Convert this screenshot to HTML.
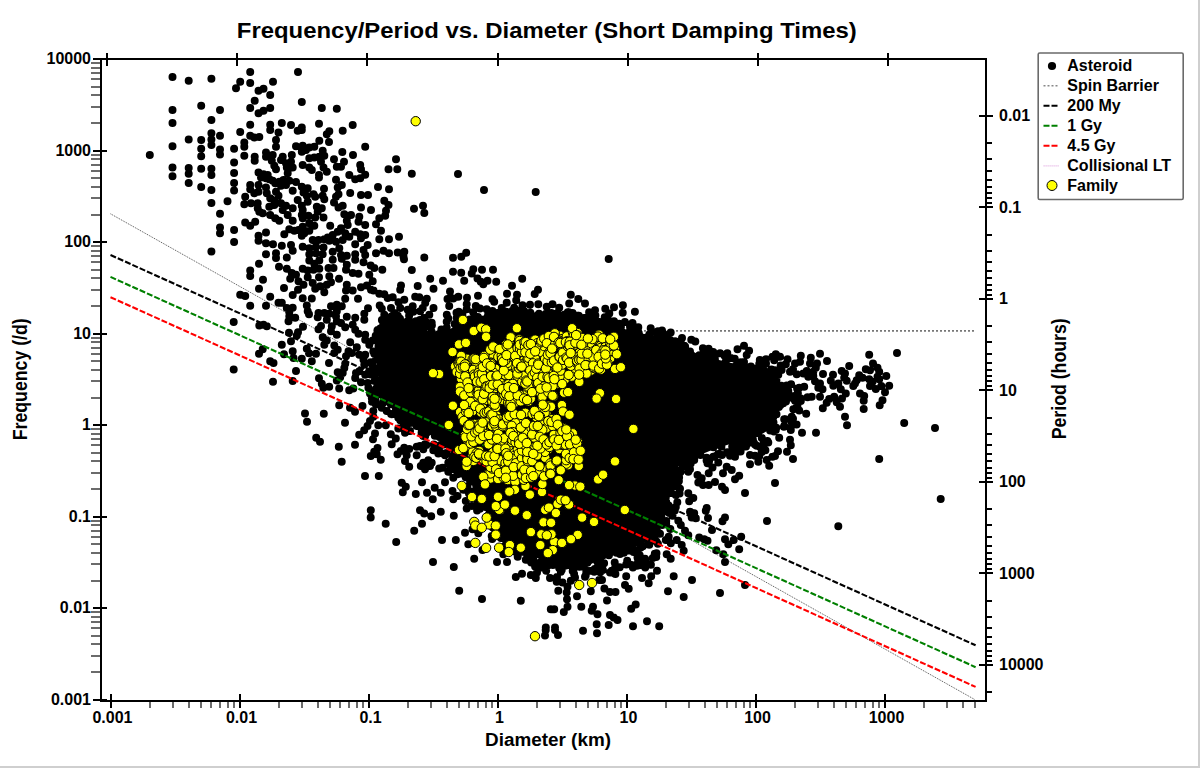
<!DOCTYPE html>
<html><head><meta charset="utf-8"><title>Frequency/Period vs. Diameter</title>
<style>html,body{margin:0;padding:0;background:#fff;overflow:hidden}svg{display:block}</style></head>
<body>
<svg width="1200" height="768" viewBox="0 0 1200 768" font-family="'Liberation Sans', sans-serif" font-weight="bold">
<rect width="1200" height="768" fill="#fff"/>
<rect x="1198" y="0" width="2" height="768" fill="#cfcfcf"/><rect x="0" y="766" width="1200" height="2" fill="#cfcfcf"/>
<line x1="600" y1="330.9" x2="974" y2="330.9" stroke="#777" stroke-width="1.8" stroke-dasharray="2 2"/>
<line x1="110.5" y1="213.8" x2="974.5" y2="699.4" stroke="#505050" stroke-width="1" stroke-dasharray="1 1" fill="none"/>
<path fill="#000" d="M385 346 383 363 383 363 383 364 377 380 381 393 389 404 403 414 403 414 418 426 433 436 433 436 434 436 464 466 464 467 464 467 464 468 484 508 504 536 532 556 561 567 575 570 588 565 643 544 658 534 665 519 667 500 667 499 667 499 671 484 671 483 678 466 679 466 679 465 679 465 679 464 680 464 680 464 681 464 681 463 695 457 695 457 712 450 712 450 733 443 734 443 755 438 772 428 776 418 779 404 779 389 774 377 763 371 744 366 719 360 719 360 699 354 698 354 678 345 678 344 661 336 639 334 639 333 619 329 618 329 598 322 598 322 589 318 574 316 540 314 500 314 469 317 456 322 452 331 451 332 451 332 451 332 450 333 450 333 450 333 449 334 449 334 440 337 439 337 439 337 438 337 438 337 437 337 437 337 423 333 422 333 422 332 421 332 412 326 395 325 388 329Z"/>
<path fill="none" stroke="#000" stroke-width="8" stroke-linecap="round" d="M544.6 316.1h0M770.4 419.1h0M514.4 319.5h0M449.1 339.0h0M662.2 524.9h0M546.3 557.6h0M765.9 372.6h0M388.2 398.2h0M483.7 321.0h0M517.5 544.5h0M453.4 334.5h0M547.7 317.1h0M460.1 459.6h0M689.7 352.4h0M691.3 355.5h0M543.8 319.8h0M685.8 457.2h0M469.6 472.6h0M558.6 316.4h0M503.8 319.0h0M425.8 425.8h0M387.1 351.1h0M479.9 493.6h0M637.3 339.1h0M621.7 333.0h0M387.1 344.7h0M388.2 395.1h0M773.8 384.0h0M543.4 559.8h0M487.7 316.6h0M648.5 533.6h0M586.9 318.5h0M724.4 363.9h0M476.6 478.8h0M585.3 320.5h0M648.0 536.9h0M428.0 426.3h0M515.0 538.6h0M645.3 338.0h0M598.8 326.2h0M576.4 317.8h0M761.2 370.7h0M694.0 452.7h0M420.5 424.2h0M764.7 374.7h0M699.1 359.2h0M491.0 510.3h0M571.0 317.4h0M427.1 336.0h0M724.9 366.6h0M777.9 391.0h0M603.3 329.6h0M483.6 499.8h0M389.2 341.1h0M419.0 426.1h0M456.7 455.7h0M579.4 566.7h0M757.1 374.9h0M605.6 327.2h0M641.2 539.8h0M510.2 540.1h0M562.9 320.0h0M498.4 525.0h0M616.4 330.8h0M453.6 336.4h0M479.7 496.2h0M640.2 539.7h0M685.6 352.6h0M699.5 357.4h0M377.6 380.9h0M474.2 475.6h0M489.3 513.4h0M732.7 443.2h0M769.1 379.0h0M697.8 454.6h0M744.1 438.0h0M709.0 362.7h0M658.4 532.7h0M747.5 369.6h0M550.4 557.3h0M741.9 367.9h0M676.6 349.8h0M387.0 368.8h0M515.5 539.8h0M611.9 332.7h0M506.6 317.8h0M674.4 472.6h0M385.4 354.9h0M591.8 323.9h0M489.5 515.0h0M626.9 336.0h0M382.6 385.1h0M517.0 314.2h0M609.8 326.9h0M599.0 324.0h0M381.6 367.6h0M463.1 459.6h0M601.8 323.6h0M680.4 458.8h0M775.3 384.9h0M385.2 354.3h0M542.9 317.7h0M476.3 480.4h0M512.7 317.9h0M501.2 316.4h0M389.6 341.7h0M402.5 413.3h0M654.7 535.7h0M386.8 344.5h0M453.2 332.3h0M598.6 322.1h0M517.5 313.8h0M699.3 355.3h0M473.4 481.5h0M560.7 561.1h0M476.3 486.1h0M477.9 317.1h0M758.5 375.5h0M752.7 433.0h0M775.1 403.6h0M454.3 335.1h0M677.3 460.4h0M587.4 562.7h0M385.5 357.8h0M773.1 407.6h0M585.4 563.5h0M463.6 461.5h0M754.1 370.4h0M589.8 558.4h0M724.6 364.0h0M758.2 432.9h0M383.8 388.9h0M748.1 367.4h0M624.7 549.5h0M665.7 511.0h0M389.3 338.4h0M383.7 371.1h0M627.8 547.2h0M615.8 328.2h0M402.3 329.5h0M519.3 544.7h0M620.2 330.9h0M480.9 499.9h0M454.0 331.5h0M775.7 395.0h0M649.8 338.8h0M755.7 433.3h0M479.2 319.0h0M776.7 406.2h0M496.3 521.4h0M379.1 382.2h0M520.8 542.4h0M428.8 336.2h0M491.7 508.7h0M618.5 334.0h0M378.5 380.4h0M596.5 323.2h0M608.4 552.3h0M380.8 391.6h0M599.6 328.3h0M405.6 325.9h0M494.6 518.8h0M776.5 414.3h0M737.6 369.4h0M592.6 324.8h0M616.5 552.8h0M388.8 351.8h0M660.8 518.3h0M661.2 521.0h0M538.3 317.7h0M389.3 347.9h0M714.9 359.2h0M582.3 563.3h0M546.8 320.2h0M631.7 546.3h0M401.0 329.2h0M410.2 327.5h0M633.2 335.8h0M406.2 330.0h0M459.4 321.5h0M420.9 426.2h0M659.2 342.2h0M472.7 474.2h0M567.1 565.2h0M499.6 526.0h0M671.6 344.0h0M475.7 482.8h0M422.6 424.5h0M668.1 343.4h0M771.4 418.8h0M395.9 408.5h0M638.6 539.2h0M661.9 504.9h0M591.5 322.5h0M714.7 364.5h0M767.1 379.9h0M386.9 343.7h0M563.4 562.5h0M658.3 522.6h0M713.4 447.2h0M659.3 337.0h0M464.6 462.3h0M433.6 338.7h0M448.5 334.3h0M564.1 564.4h0M472.7 475.7h0M417.0 418.0h0M643.0 337.8h0M384.2 376.5h0M684.7 349.5h0M720.8 441.8h0M490.9 315.1h0M492.2 315.7h0M575.7 566.0h0M684.9 460.6h0M621.2 550.9h0M674.1 467.0h0M660.1 339.9h0M590.4 324.4h0M443.9 444.4h0M661.4 500.9h0M676.6 459.2h0M681.1 350.6h0M586.1 562.1h0M647.7 336.9h0M777.5 398.0h0M633.8 541.9h0M492.7 511.0h0M434.8 435.8h0M664.2 490.2h0M473.3 320.1h0M661.0 339.4h0M392.7 328.8h0M666.2 501.9h0M677.4 344.8h0M483.3 504.8h0M469.7 319.4h0M480.0 488.0h0M733.4 440.8h0M453.6 455.5h0M564.8 565.7h0M671.3 483.1h0M560.3 562.0h0M425.0 334.2h0M441.2 436.4h0M742.7 437.6h0M750.2 438.7h0M556.9 317.3h0M665.0 495.4h0M576.6 564.0h0M681.3 351.5h0M504.2 316.2h0M387.2 362.5h0M400.8 327.9h0M655.5 529.8h0M515.8 315.6h0M583.2 566.7h0M625.0 333.2h0M386.5 358.3h0M546.2 316.3h0M651.1 339.9h0M747.6 438.4h0M548.2 556.6h0M654.5 340.8h0M415.4 422.1h0M668.9 486.3h0M520.3 315.0h0M380.5 372.0h0M401.4 325.4h0M664.0 498.7h0M383.8 391.8h0M508.0 535.8h0M562.4 320.0h0M554.3 318.2h0M674.7 474.6h0M476.6 489.2h0M600.6 557.5h0M748.3 437.3h0M765.4 378.8h0M551.3 316.1h0M475.2 479.0h0M736.2 365.6h0M572.3 563.4h0M537.2 553.0h0M773.8 396.4h0M439.5 436.9h0M504.9 316.5h0M700.4 455.0h0M760.7 372.7h0M583.1 320.8h0M690.0 351.5h0M725.7 361.7h0M632.3 336.4h0M425.6 336.0h0M498.8 529.1h0M486.2 507.1h0M746.7 370.0h0M384.3 389.5h0M773.5 422.5h0M390.5 339.7h0M522.1 317.1h0M528.8 316.5h0M775.1 383.6h0M773.2 417.2h0M418.0 421.9h0M659.7 513.3h0M767.4 374.3h0M755.7 372.7h0M608.9 555.2h0M515.8 541.2h0M530.7 549.6h0M559.5 319.9h0M449.5 338.3h0M479.7 319.9h0M717.7 444.4h0M462.0 457.4h0M526.4 316.6h0M647.2 535.5h0M633.2 334.5h0M590.1 558.8h0M649.5 336.9h0M588.0 561.4h0M497.1 521.7h0M778.5 401.2h0M402.1 408.2h0M776.1 413.7h0M386.9 340.3h0M503.7 534.5h0M459.2 328.2h0M446.2 443.6h0M664.6 489.0h0M473.8 318.6h0M487.6 504.3h0M698.3 453.4h0M704.0 360.3h0M584.0 318.1h0M771.2 419.7h0M665.8 497.3h0M500.0 315.6h0M467.9 463.4h0M757.1 430.9h0M454.0 337.2h0M629.4 546.1h0M752.7 370.6h0M388.4 328.8h0M531.0 554.0h0M724.8 440.3h0M670.0 485.0h0M390.1 329.7h0M602.8 554.8h0M387.7 354.5h0M419.2 331.8h0M585.3 318.1h0M508.2 317.7h0M446.4 339.9h0M671.2 468.6h0M491.8 315.3h0M564.5 562.8h0M389.4 328.8h0M636.1 542.0h0M502.7 524.8h0M534.6 316.4h0M721.4 446.8h0M586.1 321.8h0M512.1 316.6h0M669.0 479.3h0M778.6 396.4h0M776.8 407.2h0M500.8 317.0h0M394.8 328.3h0M525.8 317.2h0M621.4 331.8h0M713.8 360.1h0M758.2 431.5h0M602.5 555.4h0M421.0 421.6h0M492.0 317.9h0M709.9 363.2h0M378.8 384.6h0M660.4 514.4h0M672.0 471.1h0M564.2 562.4h0M585.7 319.4h0M556.0 314.9h0M514.6 542.3h0M652.1 533.2h0M663.4 342.2h0M757.7 369.5h0M662.1 505.5h0M590.4 318.7h0M478.8 488.9h0M767.4 440.9h0M608.6 320.4h0M380.6 329.5h0M441.4 329.4h0M795.0 400.8h0M630.1 330.5h0M623.9 552.8h0M547.4 314.0h0M498.4 312.7h0M460.8 466.9h0M679.4 470.4h0M678.9 481.1h0M759.3 363.7h0M471.3 494.6h0M745.1 445.0h0M637.6 327.6h0M369.0 373.1h0M416.2 326.3h0M413.1 422.7h0M397.3 319.0h0M619.7 567.2h0M781.6 370.0h0M785.2 419.2h0M385.4 340.0h0M471.5 491.8h0M375.6 373.3h0M383.9 331.8h0M379.6 349.2h0M669.3 513.1h0M751.6 367.6h0M649.0 543.1h0M430.8 327.8h0M380.0 369.1h0M374.6 381.1h0M381.6 349.3h0M454.7 323.9h0M375.9 404.4h0M492.7 522.9h0M423.6 331.8h0M637.5 557.6h0M761.5 446.2h0M479.9 508.8h0M446.4 452.9h0M620.0 554.1h0M778.3 374.8h0M421.1 428.1h0M724.6 355.7h0M740.9 362.2h0M627.1 550.3h0M512.6 310.5h0M656.5 553.3h0M604.7 317.2h0M783.9 426.8h0M383.9 398.3h0M682.3 466.4h0M552.9 564.9h0M495.4 530.5h0M530.4 312.8h0M383.3 345.6h0M404.5 421.4h0M557.5 312.9h0M675.1 342.4h0M439.1 333.9h0M378.5 346.3h0M746.0 446.4h0M604.4 588.6h0M652.8 558.0h0M445.8 332.4h0M488.6 518.8h0M769.8 373.1h0M740.1 362.6h0M439.8 335.5h0M497.2 534.2h0M505.1 539.2h0M663.5 333.7h0M370.7 374.4h0M577.5 315.7h0M449.3 464.5h0M500.9 538.1h0M759.8 359.9h0M503.7 313.3h0M645.5 560.4h0M631.5 565.1h0M467.4 486.4h0M749.9 367.4h0M461.0 473.6h0M507.5 540.9h0M557.0 576.9h0M490.0 516.1h0M755.0 444.5h0M674.8 510.5h0M632.9 567.4h0M639.3 565.2h0M465.7 477.3h0M766.0 363.4h0M436.7 335.0h0M797.4 405.8h0M702.9 348.2h0M597.3 561.7h0M706.6 460.5h0M590.2 315.7h0M780.7 365.5h0M462.4 313.8h0M386.4 320.7h0M395.4 317.5h0M463.2 468.5h0M741.4 442.7h0M460.3 466.9h0M624.9 322.0h0M463.3 489.7h0M732.8 452.5h0M771.4 369.4h0M666.2 521.1h0M489.3 314.0h0M602.6 322.9h0M738.2 451.4h0M770.1 430.5h0M670.3 529.0h0M519.2 551.9h0M649.3 544.8h0M791.7 416.7h0M640.9 547.4h0M774.0 431.5h0M524.0 311.0h0M795.7 395.7h0M670.4 340.2h0M783.3 403.2h0M778.9 406.9h0M437.8 449.8h0M680.5 472.0h0M471.9 505.9h0M694.2 459.9h0M371.8 395.5h0M792.7 396.2h0M429.4 326.6h0M368.4 387.8h0M619.1 323.7h0M456.7 317.8h0M406.3 424.7h0M776.4 380.6h0M578.8 315.8h0M440.9 453.0h0M781.4 385.8h0M614.7 562.6h0M693.5 459.8h0M684.4 345.8h0M376.8 354.9h0M786.7 385.5h0M679.0 488.1h0M599.9 561.3h0M535.1 566.6h0M713.2 352.1h0M793.0 369.3h0M466.6 487.8h0M397.3 322.7h0M548.3 565.2h0M774.5 359.3h0M387.5 321.4h0M506.7 550.2h0M732.2 446.5h0M380.9 359.7h0M796.6 424.6h0M766.0 359.2h0M763.5 443.8h0M378.2 370.2h0M408.7 321.6h0M383.2 324.3h0M410.0 423.0h0M764.7 363.3h0M569.4 313.5h0M517.2 547.4h0M658.9 333.7h0M542.0 567.4h0M540.4 565.5h0M744.8 441.3h0M774.8 378.4h0M517.7 556.7h0M709.1 460.9h0M377.5 394.6h0M502.5 311.1h0M477.1 510.4h0M521.0 310.9h0M492.2 538.9h0M774.9 370.2h0M406.9 321.7h0M640.9 547.2h0M492.8 527.4h0M668.5 339.8h0M457.8 320.8h0M606.5 321.6h0M585.7 575.4h0M589.1 312.3h0M572.7 571.1h0M772.2 375.7h0M572.6 312.9h0M376.2 388.5h0M599.6 321.9h0M377.2 368.4h0M784.8 397.2h0M388.8 328.0h0M391.1 414.1h0M671.6 508.8h0M797.1 388.6h0M645.2 567.4h0M488.9 522.5h0M452.6 458.1h0M714.3 456.5h0M765.4 450.2h0M431.7 331.9h0M451.5 460.7h0M551.4 313.1h0M713.3 355.1h0M559.2 568.1h0M403.2 418.5h0M377.5 387.3h0M611.9 325.1h0M379.0 342.0h0M739.0 445.2h0M405.5 322.6h0M656.4 541.6h0M677.3 502.2h0M491.9 520.3h0M672.1 341.2h0M380.3 328.4h0M772.5 356.7h0M688.1 461.7h0M655.7 332.2h0M568.8 312.2h0M661.0 333.5h0M773.1 428.8h0M410.8 321.9h0M791.5 421.4h0M469.0 493.6h0M457.1 461.9h0M375.4 371.3h0M600.2 572.2h0M750.9 366.6h0M394.8 320.0h0M668.7 536.7h0M690.8 462.1h0M685.3 464.8h0M662.0 330.4h0M778.3 386.8h0M515.9 552.0h0M706.6 457.8h0M632.5 322.9h0M379.8 353.1h0M685.1 346.4h0M675.1 341.3h0M720.1 353.2h0M599.7 563.7h0M506.6 539.1h0M788.3 390.9h0M751.7 442.6h0M775.0 378.2h0M650.9 564.7h0M377.3 337.1h0M415.6 322.7h0M383.3 349.7h0M467.4 477.1h0M704.0 354.2h0M531.0 559.7h0M392.9 325.5h0M604.1 563.3h0M425.2 436.1h0M653.9 540.0h0M667.2 505.7h0M504.6 546.2h0M791.1 384.3h0M521.6 548.6h0M415.9 322.0h0M371.8 398.1h0M781.4 388.7h0M392.7 413.9h0M374.1 399.7h0M473.2 312.3h0M381.9 320.1h0M400.0 318.8h0M531.2 554.8h0M780.6 389.4h0M541.1 563.9h0M491.7 536.1h0M440.6 444.9h0M531.2 562.4h0M470.1 481.5h0M586.8 570.7h0M489.4 522.7h0M649.3 334.5h0M446.8 314.7h0M764.0 370.4h0M542.1 563.1h0M786.0 401.5h0M451.7 466.1h0M433.9 444.4h0M668.6 505.6h0M762.1 368.3h0M730.8 358.0h0M706.9 356.2h0M403.5 426.0h0M595.4 315.4h0M414.9 323.1h0M676.2 486.1h0M638.8 333.3h0M421.6 432.7h0M496.9 535.5h0M567.8 312.3h0M392.2 317.4h0M758.8 366.7h0M419.9 319.9h0M781.5 393.3h0M431.9 325.2h0M673.6 486.6h0M666.2 523.8h0M602.9 570.0h0M453.6 468.9h0M569.1 313.9h0M629.0 550.4h0M617.4 324.2h0M797.5 393.7h0M627.2 560.8h0M498.0 536.1h0M546.2 564.2h0M518.6 310.8h0M494.9 532.8h0M682.7 345.3h0M527.4 554.3h0M586.3 572.1h0M631.7 327.7h0M573.3 570.0h0M609.3 313.5h0M399.6 412.6h0M488.3 313.5h0M408.2 324.7h0M756.3 445.5h0M654.8 553.8h0M737.7 445.1h0M736.5 445.0h0M599.7 570.1h0M769.8 374.7h0M464.9 472.4h0M372.5 392.1h0M393.5 318.7h0M386.2 325.1h0M375.6 400.5h0M615.4 573.9h0M373.8 394.4h0M788.0 390.1h0M498.8 532.4h0M389.9 317.6h0M639.7 555.2h0M666.5 335.9h0M426.4 445.0h0M412.6 325.7h0M633.5 551.9h0M670.6 486.8h0M539.0 313.7h0M377.4 330.5h0M679.1 477.5h0M427.0 432.4h0M635.4 550.0h0M370.8 373.6h0M594.7 569.0h0M456.5 312.7h0M786.5 396.6h0M761.7 452.0h0M527.6 313.5h0M763.2 369.6h0M752.9 439.8h0M541.4 561.6h0M637.9 328.7h0M373.3 351.5h0M615.2 567.3h0M657.9 543.7h0M397.8 315.8h0M532.4 557.1h0M761.0 370.0h0M383.7 342.8h0M680.3 471.1h0M727.2 452.2h0M679.6 493.4h0M523.2 551.8h0M545.1 563.3h0M797.9 393.2h0M708.4 355.4h0M740.6 451.6h0M736.2 442.7h0M636.9 565.8h0M660.0 533.7h0M546.0 313.8h0M591.3 570.7h0M438.9 449.1h0M688.2 468.8h0M471.9 505.9h0M708.6 348.8h0M378.0 387.8h0M642.8 546.2h0M782.1 396.0h0M512.0 312.5h0M372.0 364.2h0M462.4 315.7h0M378.0 359.3h0M620.9 327.1h0M705.1 355.2h0M386.8 321.9h0M735.9 451.1h0M400.4 415.3h0M492.6 526.9h0M605.8 323.3h0M386.3 323.1h0M564.6 314.5h0M381.3 364.8h0M753.7 442.5h0M561.7 570.0h0M386.6 317.4h0M611.7 570.7h0M516.1 549.8h0M427.0 322.8h0M400.3 420.2h0M477.5 501.6h0M386.3 319.3h0M574.1 574.0h0M718.2 453.9h0M475.5 491.9h0M760.1 447.0h0M506.3 311.8h0M690.7 463.4h0M527.3 555.4h0M737.5 349.3h0M761.8 437.9h0M671.2 493.0h0M780.5 405.0h0M779.9 392.3h0M568.3 314.8h0M421.6 322.6h0M372.3 374.2h0M377.3 394.7h0M375.7 335.8h0M380.0 335.9h0M400.1 321.3h0M431.7 332.1h0M409.1 315.8h0M385.9 333.9h0M387.8 327.0h0M390.4 319.1h0M240.2 132.0h0M250.2 135.8h0M254.3 137.5h0M259.3 137.0h0M270.2 130.0h0M278.5 132.5h0M276.0 140.0h0M297.7 130.8h0M301.8 130.0h0M326.8 134.2h0M329.3 131.3h0M342.7 130.8h0M244.3 142.5h0M244.3 146.7h0M276.0 146.7h0M296.0 146.2h0M302.7 145.8h0M309.3 147.5h0M314.3 146.7h0M319.3 140.8h0M329.0 142.0h0M322.7 150.8h0M301.8 151.7h0M306.0 150.0h0M365.2 146.7h0M342.3 152.0h0M244.3 155.8h0M254.7 156.7h0M254.7 160.8h0M266.0 152.5h0M266.0 156.7h0M272.7 155.0h0M271.8 160.8h0M282.7 156.7h0M281.0 160.0h0M291.8 155.0h0M291.0 161.7h0M286.0 163.3h0M309.3 158.3h0M314.3 157.5h0M319.3 156.7h0M324.3 155.8h0M321.0 161.7h0M302.7 165.0h0M334.0 159.2h0M344.0 161.7h0M353.0 155.0h0M396.0 159.2h0M360.2 165.0h0M274.3 165.8h0M276.0 169.2h0M286.8 167.5h0M292.7 167.5h0M287.7 173.3h0M309.3 167.5h0M311.8 170.0h0M323.5 167.5h0M326.8 171.7h0M319.0 175.0h0M319.0 177.5h0M336.8 166.7h0M341.0 166.7h0M349.3 175.0h0M361.0 169.2h0M365.2 174.7h0M360.2 178.3h0M355.2 179.2h0M388.5 169.2h0M397.3 169.2h0M411.8 173.7h0M258.5 172.5h0M263.5 174.2h0M267.7 175.0h0M261.0 177.5h0M266.0 178.3h0M269.3 179.2h0M272.7 180.8h0M275.2 183.3h0M279.3 181.7h0M283.5 180.0h0M289.3 180.8h0M296.0 182.0h0M286.0 185.0h0M281.0 185.8h0M250.2 185.0h0M258.5 185.0h0M266.0 187.5h0M250.2 189.2h0M336.0 179.7h0M341.8 185.0h0M337.7 187.5h0M301.8 186.7h0M307.7 188.3h0M324.0 188.7h0M378.0 187.0h0M389.0 189.2h0M254.3 193.3h0M258.5 191.7h0M266.8 193.3h0M276.0 191.7h0M278.5 195.8h0M292.7 190.8h0M245.2 196.7h0M303.5 192.5h0M306.8 195.8h0M313.5 194.2h0M315.2 196.7h0M297.7 200.0h0M322.7 195.8h0M324.3 199.2h0M338.5 194.2h0M336.0 196.7h0M334.0 202.5h0M350.2 193.0h0M361.0 195.0h0M368.0 195.0h0M384.3 200.8h0M270.2 198.3h0M274.3 200.8h0M244.3 204.2h0M251.0 203.3h0M257.7 203.3h0M257.7 208.3h0M269.3 206.7h0M274.3 205.0h0M281.0 203.3h0M286.0 205.8h0M292.7 208.3h0M282.7 210.0h0M301.8 205.8h0M302.7 210.0h0M307.7 201.7h0M316.8 206.7h0M321.8 208.3h0M317.7 211.7h0M338.5 207.5h0M342.7 205.8h0M361.0 207.5h0M371.0 210.0h0M388.5 205.0h0M386.0 210.8h0M414.0 208.7h0M423.0 205.8h0M424.3 213.0h0M259.3 211.7h0M262.7 213.3h0M270.2 215.0h0M275.2 218.3h0M279.3 220.8h0M287.7 215.0h0M292.7 220.8h0M301.8 215.0h0M302.7 218.3h0M308.5 215.8h0M315.2 217.5h0M323.5 217.5h0M344.3 214.2h0M351.0 215.0h0M346.8 220.8h0M359.3 216.7h0M358.5 221.7h0M385.2 215.8h0M379.3 218.3h0M376.0 224.2h0M245.2 222.5h0M250.2 225.8h0M255.2 221.7h0M330.2 225.8h0M347.7 225.0h0M365.2 225.0h0M309.3 223.3h0M314.3 225.8h0M302.7 226.7h0M298.5 230.0h0M294.3 230.8h0M289.3 229.2h0M284.3 234.2h0M266.0 232.5h0M258.5 235.8h0M341.0 228.3h0M337.7 231.7h0M345.2 233.3h0M332.7 235.0h0M327.7 237.5h0M355.2 231.7h0M360.2 234.2h0M365.2 235.0h0M381.0 230.8h0M304.3 233.3h0M309.3 230.8h0M301.8 235.8h0M258.5 240.8h0M266.0 243.3h0M273.0 244.2h0M281.8 245.8h0M291.0 245.0h0M312.7 240.0h0M318.5 240.0h0M324.3 239.2h0M302.7 246.7h0M309.3 248.3h0M316.0 246.7h0M323.5 247.5h0M329.3 240.8h0M336.0 241.7h0M342.7 240.0h0M349.3 236.7h0M355.2 244.2h0M367.7 245.0h0M361.0 238.3h0M379.3 239.2h0M389.0 239.2h0M399.0 236.7h0M339.3 248.3h0M292.7 250.8h0M332.7 251.7h0M266.0 254.2h0M276.0 253.3h0M286.8 257.5h0M309.3 254.2h0M316.0 253.3h0M322.7 254.2h0M341.0 255.0h0M346.8 255.8h0M355.2 254.2h0M363.5 250.0h0M365.2 255.0h0M376.0 253.3h0M383.5 250.8h0M389.0 253.3h0M397.7 252.5h0M404.3 251.7h0M403.5 256.7h0M424.3 257.5h0M259.0 263.8h0M276.0 258.0h0M279.0 266.7h0M302.7 268.8h0M309.3 260.5h0M314.3 263.8h0M319.3 260.5h0M332.7 259.7h0M341.8 258.8h0M346.8 264.7h0M355.2 259.7h0M363.5 262.2h0M370.7 265.5h0M374.3 268.0h0M404.0 259.3h0M250.2 270.5h0M250.2 276.0h0M286.8 268.8h0M291.8 273.0h0M296.0 274.7h0M290.2 278.8h0M307.7 270.5h0M313.5 269.7h0M319.3 268.8h0M307.7 277.2h0M319.0 277.2h0M328.5 268.0h0M333.5 268.0h0M329.3 276.3h0M339.0 278.8h0M346.0 269.7h0M352.7 273.0h0M358.5 273.8h0M369.3 274.7h0M372.7 281.3h0M382.3 269.7h0M411.8 270.0h0M430.2 278.8h0M263.0 279.7h0M259.0 288.8h0M284.0 288.0h0M298.5 281.3h0M303.5 284.7h0M298.0 289.7h0M312.7 283.0h0M315.2 288.8h0M320.2 286.3h0M326.8 284.7h0M331.0 282.2h0M324.3 292.2h0M346.8 284.7h0M346.0 290.5h0M352.7 290.5h0M361.0 287.2h0M366.8 285.5h0M371.0 289.7h0M373.5 290.5h0M401.0 285.5h0M400.2 289.7h0M417.7 286.0h0M433.5 288.8h0M240.2 294.7h0M245.2 296.0h0M270.2 296.7h0M292.7 295.0h0M302.7 298.3h0M311.8 298.5h0M345.2 298.8h0M358.0 298.8h0M379.3 293.8h0M384.3 294.3h0M392.7 297.2h0M415.2 296.7h0M419.3 297.2h0M426.8 298.8h0M398.5 302.2h0M387.7 298.0h0M250.2 305.8h0M266.0 305.8h0M278.5 302.7h0M281.8 302.7h0M286.8 308.0h0M292.7 307.7h0M289.3 312.2h0M306.8 305.5h0M307.7 311.3h0M331.0 306.3h0M336.8 304.7h0M341.8 306.3h0M336.8 311.3h0M368.0 308.3h0M364.3 313.8h0M379.7 305.5h0M381.8 308.8h0M391.0 308.0h0M400.2 308.0h0M407.7 309.7h0M412.7 306.3h0M420.2 311.3h0M425.2 303.0h0M289.3 316.3h0M295.2 317.7h0M288.5 321.3h0M309.0 314.3h0M318.5 313.0h0M317.7 317.2h0M324.3 313.0h0M329.3 313.8h0M326.8 319.7h0M336.0 316.3h0M346.8 316.7h0M355.2 317.7h0M364.3 319.7h0M336.8 321.3h0M341.0 323.0h0M386.0 318.8h0M391.8 316.3h0M398.5 320.5h0M416.0 321.3h0M424.3 318.0h0M259.3 325.5h0M263.5 324.7h0M266.8 326.3h0M303.0 326.7h0M321.0 326.0h0M318.5 329.3h0M331.8 326.3h0M331.0 331.3h0M345.2 327.2h0M352.7 324.7h0M355.2 329.7h0M358.5 333.8h0M377.7 330.0h0M384.3 326.3h0M289.0 332.7h0M298.0 332.2h0M296.8 335.5h0M291.0 341.3h0M322.7 337.2h0M326.8 340.5h0M336.8 334.7h0M365.2 334.7h0M365.2 339.7h0M350.2 342.2h0M281.8 344.7h0M324.3 344.7h0M334.3 345.5h0M337.7 349.7h0M334.3 353.0h0M356.8 347.2h0M372.7 340.5h0M369.3 344.7h0M377.7 340.5h0M262.7 349.3h0M259.0 353.8h0M292.7 351.3h0M293.5 358.0h0M284.0 354.3h0M306.8 348.8h0M309.0 353.3h0M316.0 353.8h0M301.8 358.8h0M348.5 351.3h0M351.8 353.0h0M346.0 356.3h0M359.3 354.7h0M365.2 354.7h0M374.3 353.8h0M363.5 359.7h0M270.2 361.3h0M273.5 363.0h0M311.8 361.3h0M329.0 363.0h0M345.2 363.8h0M344.3 368.0h0M371.0 362.2h0M376.0 359.7h0M379.3 367.2h0M364.3 364.7h0M296.0 371.0h0M273.0 381.7h0M292.7 381.0h0M319.0 378.3h0M321.8 383.8h0M337.7 372.2h0M342.7 373.0h0M340.2 377.2h0M336.8 380.5h0M356.0 373.0h0M359.3 371.3h0M355.2 378.0h0M365.2 374.7h0M369.3 371.3h0M374.3 374.7h0M378.5 372.2h0M361.0 382.2h0M367.7 383.0h0M377.7 381.3h0M404.3 299.7h0M409.3 313.0h0M429.3 314.7h0M433.5 308.0h0M394.3 313.0h0M384.3 314.7h0M422.7 308.0h0M250.2 72.0h0M298.0 72.0h0M240.2 81.7h0M250.2 83.0h0M273.0 81.7h0M236.0 88.3h0M263.5 88.7h0M258.5 90.8h0M270.2 95.0h0M254.7 100.8h0M301.8 102.0h0M250.2 108.0h0M270.2 108.0h0M263.5 110.8h0M258.5 113.3h0M321.8 108.0h0M336.8 108.8h0M250.2 124.7h0M270.2 124.7h0M281.8 123.0h0M291.0 125.0h0M301.8 127.5h0M319.0 123.8h0M352.7 125.0h0M453.0 257.7h0M461.3 256.8h0M466.2 252.7h0M453.0 271.8h0M461.2 272.7h0M473.3 269.3h0M471.7 273.5h0M482.0 269.8h0M493.0 269.8h0M443.0 280.7h0M464.2 280.7h0M477.5 278.5h0M480.8 281.8h0M483.3 284.3h0M487.5 280.7h0M496.2 281.8h0M522.2 278.8h0M512.0 285.7h0M538.0 289.7h0M534.7 294.0h0M450.0 291.5h0M507.0 293.8h0M517.0 294.7h0M570.8 294.7h0M578.3 299.0h0M447.5 299.0h0M453.3 298.5h0M458.3 296.8h0M467.0 297.7h0M478.0 295.7h0M492.5 299.3h0M494.2 301.8h0M516.2 300.2h0M569.2 303.5h0M585.0 303.5h0M449.2 306.0h0M466.7 304.3h0M475.8 306.0h0M506.7 302.7h0M501.7 308.0h0M522.5 305.2h0M530.0 304.7h0M538.3 304.3h0M552.5 304.3h0M546.7 306.8h0M559.2 307.7h0M595.0 310.2h0M413.3 311.8h0M458.7 311.8h0M466.7 309.3h0M480.0 308.5h0M486.7 309.3h0M492.5 311.0h0M514.2 307.7h0M305.0 413.5h0M307.0 421.8h0M323.8 413.8h0M339.2 405.2h0M339.2 388.5h0M323.3 387.7h0M329.2 386.8h0M349.2 390.2h0M353.3 388.5h0M350.0 407.7h0M355.0 411.8h0M362.5 406.0h0M370.0 393.5h0M372.0 401.8h0M345.0 422.7h0M316.2 437.7h0M320.0 441.8h0M338.8 446.8h0M355.0 444.8h0M341.7 461.8h0M359.2 434.8h0M364.2 430.2h0M367.5 426.0h0M370.0 421.0h0M373.3 411.0h0M373.3 416.8h0M378.3 425.2h0M385.8 425.2h0M375.0 433.5h0M373.0 439.3h0M390.8 434.3h0M395.8 438.5h0M391.7 444.3h0M377.5 448.0h0M374.2 451.8h0M370.8 456.0h0M380.8 459.8h0M376.7 454.3h0M365.0 476.0h0M378.8 476.0h0M370.8 510.2h0M397.5 454.3h0M400.8 451.0h0M404.2 447.7h0M409.2 449.0h0M406.7 455.2h0M405.0 461.0h0M409.2 466.8h0M416.7 455.2h0M420.0 446.0h0M425.0 444.3h0M416.7 446.8h0M423.3 449.3h0M401.7 482.7h0M405.8 486.8h0M402.8 492.3h0M415.8 494.0h0M422.0 482.2h0M427.0 492.7h0M432.8 499.3h0M434.7 487.7h0M440.8 492.7h0M445.0 482.2h0M420.0 510.2h0M424.2 513.5h0M440.8 511.8h0M452.5 491.0h0M457.5 496.0h0M453.3 499.3h0M465.8 501.0h0M466.7 508.5h0M475.8 506.0h0M453.3 477.7h0M457.5 474.3h0M448.3 471.8h0M442.5 467.7h0M439.2 468.5h0M448.3 462.7h0M453.3 460.2h0M423.3 462.7h0M428.3 460.2h0M431.7 462.7h0M425.0 469.3h0M420.8 466.0h0M430.0 466.0h0M433.3 450.2h0M438.3 453.5h0M445.0 455.2h0M435.0 446.0h0M406.7 425.2h0M410.0 431.0h0M405.0 432.7h0M398.3 428.5h0M416.7 426.0h0M422.5 429.3h0M426.7 426.8h0M430.0 431.0h0M423.3 436.0h0M438.3 434.3h0M443.3 439.3h0M439.2 427.7h0M381.7 407.7h0M386.7 411.0h0M391.7 414.3h0M398.3 417.7h0M383.3 402.7h0M390.8 404.3h0M395.8 407.7h0M401.7 412.7h0M406.7 416.8h0M413.3 418.5h0M419.2 422.7h0M392.5 393.5h0M400.0 398.5h0M406.7 402.7h0M381.7 392.7h0M388.3 399.3h0M410.0 409.3h0M416.7 413.5h0M426.7 419.3h0M433.3 424.3h0M431.2 516.2h0M453.8 515.8h0M422.0 523.8h0M414.2 530.8h0M442.0 540.0h0M455.8 540.0h0M465.0 532.8h0M468.3 544.2h0M472.5 529.2h0M478.3 533.3h0M433.0 562.0h0M453.8 567.0h0M474.2 558.8h0M497.0 562.0h0M507.0 562.0h0M482.5 550.0h0M503.3 554.2h0M525.8 559.7h0M533.3 559.2h0M539.2 563.0h0M515.8 577.0h0M522.0 573.8h0M530.8 575.0h0M537.0 572.5h0M535.8 578.0h0M546.2 570.8h0M550.0 578.0h0M560.8 571.7h0M556.7 581.7h0M562.5 582.5h0M567.5 586.7h0M558.3 590.8h0M566.7 592.5h0M567.0 599.2h0M577.0 596.2h0M590.8 591.3h0M570.8 580.8h0M575.0 577.5h0M585.0 576.7h0M459.2 590.8h0M482.0 599.0h0M520.8 600.8h0M550.8 609.2h0M554.2 609.2h0M567.5 606.7h0M563.8 612.0h0M581.3 606.7h0M591.7 610.8h0M593.0 606.7h0M597.5 614.2h0M545.8 627.5h0M555.0 627.5h0M596.7 624.2h0M599.2 580.0h0M594.2 571.7h0M775.8 354.3h0M780.0 356.8h0M787.5 359.3h0M774.2 360.2h0M800.8 355.7h0M810.8 357.7h0M820.0 353.8h0M827.0 361.0h0M800.0 361.8h0M795.0 363.5h0M785.8 364.3h0M810.0 363.5h0M817.0 363.5h0M815.8 367.7h0M813.3 371.8h0M806.7 371.0h0M803.3 373.5h0M796.7 374.3h0M790.0 371.8h0M813.3 376.0h0M808.3 376.8h0M823.0 374.0h0M833.0 374.7h0M830.8 380.7h0M815.0 381.3h0M820.0 383.5h0M818.3 387.7h0M822.5 389.3h0M804.2 386.8h0M799.2 387.7h0M820.0 396.8h0M811.7 396.8h0M807.5 397.3h0M800.8 398.5h0M793.3 398.5h0M800.8 401.0h0M833.3 385.7h0M838.3 383.5h0M840.8 389.3h0M845.8 393.5h0M842.0 398.5h0M834.2 396.8h0M829.2 399.0h0M836.7 402.3h0M840.0 406.8h0M826.7 402.7h0M822.8 408.2h0M799.2 410.5h0M793.3 409.3h0M806.2 413.8h0M793.0 418.8h0M784.2 419.3h0M784.2 426.0h0M790.8 427.2h0M776.3 427.7h0M802.0 432.7h0M816.0 432.7h0M779.2 437.7h0M790.0 439.7h0M790.8 445.2h0M787.0 451.8h0M778.0 451.3h0M775.0 456.0h0M793.0 459.0h0M841.7 371.0h0M845.0 373.5h0M844.2 377.7h0M846.7 380.7h0M849.2 366.0h0M855.0 383.5h0M853.3 386.0h0M859.2 375.2h0M856.7 380.2h0M862.5 377.7h0M865.8 369.3h0M870.0 370.2h0M869.2 379.3h0M872.5 381.8h0M870.0 386.0h0M869.2 354.8h0M873.0 363.5h0M877.5 367.7h0M879.2 371.8h0M877.5 376.8h0M879.2 379.3h0M886.3 376.0h0M889.2 385.7h0M885.0 392.3h0M881.3 386.0h0M875.8 389.0h0M860.0 393.5h0M864.2 396.0h0M863.7 400.7h0M882.5 400.2h0M879.7 405.2h0M863.7 409.0h0M845.0 416.8h0M847.0 425.2h0M897.0 353.0h0M904.2 423.0h0M935.0 428.0h0M879.2 459.0h0M775.8 430.0h0M790.8 430.0h0M768.3 442.5h0M756.7 445.8h0M750.0 455.0h0M755.0 455.8h0M759.2 456.3h0M758.3 461.7h0M750.0 464.2h0M766.7 460.0h0M772.5 456.7h0M769.2 465.8h0M730.0 440.0h0M735.8 447.5h0M730.0 455.8h0M735.0 456.7h0M722.0 455.0h0M718.3 462.5h0M726.7 466.7h0M731.7 470.0h0M739.2 475.8h0M735.0 479.2h0M723.0 473.3h0M713.3 456.7h0M707.5 463.3h0M712.5 467.5h0M708.7 473.3h0M690.0 469.2h0M688.3 471.7h0M697.5 475.0h0M701.7 478.3h0M698.3 482.5h0M703.0 485.0h0M708.7 485.0h0M715.0 482.0h0M722.0 486.7h0M725.0 490.0h0M675.8 477.2h0M680.0 488.7h0M675.8 495.0h0M688.3 493.3h0M693.3 498.0h0M689.2 501.3h0M745.0 493.0h0M775.0 483.0h0M675.8 507.0h0M706.7 508.0h0M705.8 510.8h0M690.0 511.7h0M694.2 513.3h0M691.7 517.5h0M695.8 518.3h0M708.0 518.0h0M725.0 517.5h0M722.5 521.3h0M767.0 521.0h0M838.3 526.2h0M672.5 515.8h0M678.3 520.8h0M680.8 525.0h0M685.0 530.8h0M688.3 535.3h0M712.0 530.0h0M699.2 537.5h0M704.2 539.2h0M707.5 540.8h0M725.0 539.2h0M728.3 544.2h0M733.7 540.0h0M741.2 536.7h0M739.2 549.2h0M716.3 550.3h0M723.3 554.2h0M676.7 540.0h0M681.7 545.0h0M683.7 550.8h0M665.8 540.0h0M670.8 543.3h0M666.7 554.2h0M448.3 318.5h0M446.7 321.8h0M506.7 316.8h0M431.7 322.7h0M403.3 323.5h0M411.7 326.8h0M423.3 327.7h0M446.7 327.7h0M605.3 308.7h0M614.0 307.3h0M622.9 305.3h0M622.7 312.7h0M634.9 311.7h0M614.0 321.3h0M605.3 320.0h0M630.0 326.7h0M638.3 327.3h0M650.7 328.3h0M658.0 331.3h0M670.7 332.4h0M682.0 338.0h0M691.3 339.7h0M695.3 341.6h0M706.0 353.3h0M715.7 354.4h0M727.3 353.3h0M744.0 345.7h0M749.1 350.7h0M746.7 354.9h0M734.7 358.7h0M744.0 362.0h0M149.8 155.0h0M172.5 77.0h0M172.5 110.0h0M172.5 123.0h0M172.5 146.2h0M172.5 167.5h0M172.5 176.2h0M188.7 80.7h0M188.7 139.5h0M188.7 168.0h0M188.7 173.7h0M188.7 183.0h0M201.2 105.7h0M201.2 140.0h0M201.2 148.7h0M201.2 156.2h0M201.2 168.7h0M201.2 187.0h0M211.4 78.7h0M211.4 120.0h0M211.4 133.2h0M211.4 139.5h0M211.4 145.0h0M211.4 168.7h0M211.4 175.0h0M211.4 190.0h0M211.4 203.0h0M211.4 251.5h0M220.0 110.0h0M220.0 135.7h0M220.0 149.5h0M220.0 154.5h0M220.0 213.7h0M220.0 227.5h0M220.0 233.2h0M227.5 201.2h0M234.1 148.7h0M234.1 162.5h0M234.1 173.0h0M234.1 183.0h0M234.1 190.5h0M234.1 230.0h0M234.1 242.0h0M233.7 322.0h0M233.7 369.5h0M458.0 174.0h0M484.0 190.0h0M535.7 192.0h0M608.7 259.0h0M765.0 363.0h0M940.7 499.0h0M725.0 562.0h0M745.0 585.0h0M720.0 593.0h0M692.0 580.0h0M683.7 597.0h0M673.7 576.2h0M668.0 591.2h0M657.0 570.7h0M651.2 576.2h0M648.7 583.2h0M642.0 578.0h0M626.2 576.2h0M625.0 585.0h0M628.7 588.7h0M615.5 592.0h0M610.0 592.0h0M607.0 600.5h0M635.7 604.5h0M631.2 608.7h0M670.7 558.7h0M656.2 557.0h0M645.0 558.7h0M638.0 562.0h0M626.2 564.5h0M610.0 615.0h0M613.7 617.5h0M617.5 620.0h0M608.7 625.0h0M597.0 633.2h0M583.0 630.7h0M633.0 626.2h0M647.0 621.2h0M659.2 626.2h0M545.7 630.0h0M545.0 635.5h0M555.0 630.0h0M558.0 635.0h0M602.0 580.0h0M610.0 572.5h0M615.0 573.7h0M370.7 517.5h0M385.7 523.7h0M396.2 542.0h0"/>
<g fill="none">
<line x1="110.5" y1="255" x2="975.6" y2="645.3" stroke="#000" stroke-width="2.1" stroke-dasharray="6 2"/>
<line x1="110.5" y1="276.9" x2="975.6" y2="667.2" stroke="#008000" stroke-width="2.1" stroke-dasharray="6 2"/>
<line x1="110.5" y1="297.2" x2="975.6" y2="686.9" stroke="#ff0000" stroke-width="2.1" stroke-dasharray="6 2"/>
</g>
<g fill="#ffff00" stroke="#000" stroke-width="1">
<circle cx="415.7" cy="121.2" r="4.7"/>
<circle cx="439.1" cy="374.1" r="4.7"/>
<circle cx="448.8" cy="425.0" r="4.7"/>
<circle cx="433.0" cy="373.2" r="4.7"/>
<circle cx="460.1" cy="412.0" r="4.7"/>
<circle cx="462.9" cy="319.9" r="4.7"/>
<circle cx="463.2" cy="381.1" r="4.7"/>
<circle cx="462.4" cy="416.8" r="4.7"/>
<circle cx="452.9" cy="405.7" r="4.7"/>
<circle cx="459.0" cy="450.0" r="4.7"/>
<circle cx="463.8" cy="420.9" r="4.7"/>
<circle cx="466.6" cy="466.0" r="4.7"/>
<circle cx="466.4" cy="359.3" r="4.7"/>
<circle cx="465.4" cy="369.1" r="4.7"/>
<circle cx="455.1" cy="366.4" r="4.7"/>
<circle cx="458.4" cy="363.0" r="4.7"/>
<circle cx="466.8" cy="358.7" r="4.7"/>
<circle cx="468.5" cy="411.0" r="4.7"/>
<circle cx="469.9" cy="403.3" r="4.7"/>
<circle cx="467.7" cy="429.2" r="4.7"/>
<circle cx="464.0" cy="372.4" r="4.7"/>
<circle cx="465.9" cy="411.5" r="4.7"/>
<circle cx="467.1" cy="377.1" r="4.7"/>
<circle cx="469.9" cy="424.1" r="4.7"/>
<circle cx="466.5" cy="439.0" r="4.7"/>
<circle cx="472.7" cy="386.0" r="4.7"/>
<circle cx="465.0" cy="435.4" r="4.7"/>
<circle cx="471.5" cy="395.4" r="4.7"/>
<circle cx="469.4" cy="364.8" r="4.7"/>
<circle cx="467.2" cy="371.7" r="4.7"/>
<circle cx="473.7" cy="331.0" r="4.7"/>
<circle cx="473.4" cy="460.9" r="4.7"/>
<circle cx="472.0" cy="497.0" r="4.7"/>
<circle cx="474.5" cy="365.8" r="4.7"/>
<circle cx="465.5" cy="437.1" r="4.7"/>
<circle cx="473.0" cy="374.5" r="4.7"/>
<circle cx="467.7" cy="446.3" r="4.7"/>
<circle cx="452.5" cy="352.0" r="4.7"/>
<circle cx="472.5" cy="409.2" r="4.7"/>
<circle cx="463.3" cy="379.2" r="4.7"/>
<circle cx="472.6" cy="387.4" r="4.7"/>
<circle cx="467.1" cy="429.0" r="4.7"/>
<circle cx="470.1" cy="368.8" r="4.7"/>
<circle cx="460.7" cy="392.4" r="4.7"/>
<circle cx="468.9" cy="377.2" r="4.7"/>
<circle cx="472.6" cy="455.2" r="4.7"/>
<circle cx="471.3" cy="369.5" r="4.7"/>
<circle cx="468.3" cy="372.1" r="4.7"/>
<circle cx="469.7" cy="391.4" r="4.7"/>
<circle cx="466.4" cy="408.4" r="4.7"/>
<circle cx="476.3" cy="395.2" r="4.7"/>
<circle cx="468.1" cy="377.9" r="4.7"/>
<circle cx="473.2" cy="386.3" r="4.7"/>
<circle cx="459.0" cy="344.4" r="4.7"/>
<circle cx="461.2" cy="378.8" r="4.7"/>
<circle cx="456.7" cy="372.0" r="4.7"/>
<circle cx="474.7" cy="426.4" r="4.7"/>
<circle cx="473.3" cy="371.1" r="4.7"/>
<circle cx="474.6" cy="423.9" r="4.7"/>
<circle cx="460.0" cy="386.9" r="4.7"/>
<circle cx="460.1" cy="364.3" r="4.7"/>
<circle cx="475.7" cy="378.5" r="4.7"/>
<circle cx="458.8" cy="364.3" r="4.7"/>
<circle cx="467.2" cy="404.0" r="4.7"/>
<circle cx="463.3" cy="448.1" r="4.7"/>
<circle cx="460.0" cy="391.7" r="4.7"/>
<circle cx="468.1" cy="425.2" r="4.7"/>
<circle cx="471.2" cy="408.8" r="4.7"/>
<circle cx="481.3" cy="327.7" r="4.7"/>
<circle cx="461.2" cy="355.9" r="4.7"/>
<circle cx="472.8" cy="451.9" r="4.7"/>
<circle cx="460.1" cy="373.8" r="4.7"/>
<circle cx="459.8" cy="361.9" r="4.7"/>
<circle cx="476.1" cy="363.8" r="4.7"/>
<circle cx="472.7" cy="359.2" r="4.7"/>
<circle cx="473.9" cy="389.0" r="4.7"/>
<circle cx="482.0" cy="383.5" r="4.7"/>
<circle cx="475.5" cy="399.2" r="4.7"/>
<circle cx="477.3" cy="430.8" r="4.7"/>
<circle cx="470.3" cy="424.1" r="4.7"/>
<circle cx="472.8" cy="411.0" r="4.7"/>
<circle cx="464.3" cy="395.4" r="4.7"/>
<circle cx="461.8" cy="485.9" r="4.7"/>
<circle cx="479.0" cy="455.0" r="4.7"/>
<circle cx="470.7" cy="443.5" r="4.7"/>
<circle cx="473.0" cy="369.9" r="4.7"/>
<circle cx="482.4" cy="407.8" r="4.7"/>
<circle cx="468.0" cy="377.2" r="4.7"/>
<circle cx="480.3" cy="378.8" r="4.7"/>
<circle cx="486.2" cy="413.9" r="4.7"/>
<circle cx="479.1" cy="450.9" r="4.7"/>
<circle cx="474.2" cy="396.7" r="4.7"/>
<circle cx="485.7" cy="390.2" r="4.7"/>
<circle cx="481.1" cy="412.5" r="4.7"/>
<circle cx="466.1" cy="364.3" r="4.7"/>
<circle cx="480.3" cy="368.7" r="4.7"/>
<circle cx="461.2" cy="361.7" r="4.7"/>
<circle cx="484.1" cy="369.0" r="4.7"/>
<circle cx="460.6" cy="368.3" r="4.7"/>
<circle cx="486.8" cy="357.5" r="4.7"/>
<circle cx="481.6" cy="455.0" r="4.7"/>
<circle cx="486.1" cy="329.3" r="4.7"/>
<circle cx="481.1" cy="433.1" r="4.7"/>
<circle cx="486.1" cy="336.8" r="4.7"/>
<circle cx="487.3" cy="440.5" r="4.7"/>
<circle cx="486.5" cy="434.7" r="4.7"/>
<circle cx="481.8" cy="498.9" r="4.7"/>
<circle cx="481.9" cy="427.7" r="4.7"/>
<circle cx="488.6" cy="412.2" r="4.7"/>
<circle cx="487.8" cy="377.5" r="4.7"/>
<circle cx="478.3" cy="404.5" r="4.7"/>
<circle cx="489.3" cy="417.1" r="4.7"/>
<circle cx="470.3" cy="401.9" r="4.7"/>
<circle cx="474.2" cy="374.6" r="4.7"/>
<circle cx="475.1" cy="393.1" r="4.7"/>
<circle cx="475.2" cy="405.9" r="4.7"/>
<circle cx="463.0" cy="367.1" r="4.7"/>
<circle cx="465.0" cy="364.4" r="4.7"/>
<circle cx="475.3" cy="542.9" r="4.7"/>
<circle cx="466.6" cy="461.7" r="4.7"/>
<circle cx="474.9" cy="376.4" r="4.7"/>
<circle cx="469.4" cy="424.8" r="4.7"/>
<circle cx="490.0" cy="363.7" r="4.7"/>
<circle cx="470.9" cy="392.3" r="4.7"/>
<circle cx="478.6" cy="372.9" r="4.7"/>
<circle cx="464.1" cy="405.0" r="4.7"/>
<circle cx="474.2" cy="521.9" r="4.7"/>
<circle cx="464.7" cy="366.8" r="4.7"/>
<circle cx="465.9" cy="342.9" r="4.7"/>
<circle cx="487.0" cy="398.0" r="4.7"/>
<circle cx="487.0" cy="517.5" r="4.7"/>
<circle cx="465.2" cy="376.4" r="4.7"/>
<circle cx="491.5" cy="418.8" r="4.7"/>
<circle cx="476.7" cy="392.0" r="4.7"/>
<circle cx="483.3" cy="459.3" r="4.7"/>
<circle cx="492.4" cy="421.3" r="4.7"/>
<circle cx="482.5" cy="380.3" r="4.7"/>
<circle cx="489.3" cy="524.5" r="4.7"/>
<circle cx="477.9" cy="391.0" r="4.7"/>
<circle cx="489.6" cy="436.8" r="4.7"/>
<circle cx="467.5" cy="382.5" r="4.7"/>
<circle cx="482.9" cy="396.5" r="4.7"/>
<circle cx="489.1" cy="399.6" r="4.7"/>
<circle cx="484.4" cy="365.6" r="4.7"/>
<circle cx="468.6" cy="388.1" r="4.7"/>
<circle cx="490.8" cy="429.7" r="4.7"/>
<circle cx="468.7" cy="413.1" r="4.7"/>
<circle cx="483.1" cy="374.3" r="4.7"/>
<circle cx="486.8" cy="400.0" r="4.7"/>
<circle cx="478.0" cy="384.2" r="4.7"/>
<circle cx="488.9" cy="473.6" r="4.7"/>
<circle cx="476.7" cy="453.2" r="4.7"/>
<circle cx="491.5" cy="430.6" r="4.7"/>
<circle cx="493.3" cy="357.1" r="4.7"/>
<circle cx="484.4" cy="355.9" r="4.7"/>
<circle cx="490.2" cy="349.6" r="4.7"/>
<circle cx="491.4" cy="374.0" r="4.7"/>
<circle cx="474.4" cy="456.8" r="4.7"/>
<circle cx="475.3" cy="525.6" r="4.7"/>
<circle cx="493.5" cy="434.4" r="4.7"/>
<circle cx="473.4" cy="441.9" r="4.7"/>
<circle cx="489.6" cy="397.1" r="4.7"/>
<circle cx="476.3" cy="457.8" r="4.7"/>
<circle cx="480.2" cy="408.7" r="4.7"/>
<circle cx="488.6" cy="444.4" r="4.7"/>
<circle cx="490.4" cy="478.6" r="4.7"/>
<circle cx="489.6" cy="435.0" r="4.7"/>
<circle cx="484.5" cy="383.6" r="4.7"/>
<circle cx="495.0" cy="437.0" r="4.7"/>
<circle cx="489.3" cy="370.0" r="4.7"/>
<circle cx="498.0" cy="429.2" r="4.7"/>
<circle cx="496.9" cy="428.2" r="4.7"/>
<circle cx="471.5" cy="436.4" r="4.7"/>
<circle cx="490.3" cy="473.5" r="4.7"/>
<circle cx="489.1" cy="383.9" r="4.7"/>
<circle cx="487.0" cy="373.2" r="4.7"/>
<circle cx="480.1" cy="423.8" r="4.7"/>
<circle cx="497.0" cy="429.3" r="4.7"/>
<circle cx="493.4" cy="465.8" r="4.7"/>
<circle cx="494.4" cy="368.9" r="4.7"/>
<circle cx="479.0" cy="375.1" r="4.7"/>
<circle cx="495.3" cy="368.6" r="4.7"/>
<circle cx="489.3" cy="434.4" r="4.7"/>
<circle cx="479.2" cy="425.7" r="4.7"/>
<circle cx="474.3" cy="358.4" r="4.7"/>
<circle cx="483.0" cy="384.8" r="4.7"/>
<circle cx="475.2" cy="432.5" r="4.7"/>
<circle cx="485.1" cy="418.9" r="4.7"/>
<circle cx="488.2" cy="388.6" r="4.7"/>
<circle cx="490.7" cy="362.7" r="4.7"/>
<circle cx="487.0" cy="412.5" r="4.7"/>
<circle cx="493.9" cy="416.7" r="4.7"/>
<circle cx="481.2" cy="388.8" r="4.7"/>
<circle cx="491.9" cy="439.6" r="4.7"/>
<circle cx="486.7" cy="517.6" r="4.7"/>
<circle cx="485.1" cy="413.2" r="4.7"/>
<circle cx="478.9" cy="390.5" r="4.7"/>
<circle cx="478.7" cy="430.2" r="4.7"/>
<circle cx="492.5" cy="468.6" r="4.7"/>
<circle cx="487.1" cy="390.4" r="4.7"/>
<circle cx="484.9" cy="379.9" r="4.7"/>
<circle cx="487.4" cy="433.9" r="4.7"/>
<circle cx="475.7" cy="359.1" r="4.7"/>
<circle cx="492.8" cy="410.1" r="4.7"/>
<circle cx="500.8" cy="441.6" r="4.7"/>
<circle cx="490.1" cy="369.1" r="4.7"/>
<circle cx="497.8" cy="446.0" r="4.7"/>
<circle cx="496.7" cy="379.9" r="4.7"/>
<circle cx="494.0" cy="388.7" r="4.7"/>
<circle cx="484.5" cy="412.8" r="4.7"/>
<circle cx="479.4" cy="454.9" r="4.7"/>
<circle cx="479.7" cy="439.7" r="4.7"/>
<circle cx="496.3" cy="415.2" r="4.7"/>
<circle cx="478.6" cy="394.7" r="4.7"/>
<circle cx="496.7" cy="385.6" r="4.7"/>
<circle cx="486.9" cy="412.1" r="4.7"/>
<circle cx="499.1" cy="382.8" r="4.7"/>
<circle cx="477.7" cy="430.9" r="4.7"/>
<circle cx="501.4" cy="399.3" r="4.7"/>
<circle cx="478.7" cy="382.8" r="4.7"/>
<circle cx="477.0" cy="381.6" r="4.7"/>
<circle cx="479.0" cy="453.7" r="4.7"/>
<circle cx="485.2" cy="388.5" r="4.7"/>
<circle cx="490.6" cy="467.2" r="4.7"/>
<circle cx="483.2" cy="436.0" r="4.7"/>
<circle cx="498.0" cy="479.0" r="4.7"/>
<circle cx="498.0" cy="467.1" r="4.7"/>
<circle cx="489.0" cy="435.0" r="4.7"/>
<circle cx="503.1" cy="425.8" r="4.7"/>
<circle cx="502.6" cy="471.2" r="4.7"/>
<circle cx="498.1" cy="419.8" r="4.7"/>
<circle cx="503.1" cy="449.1" r="4.7"/>
<circle cx="482.7" cy="399.2" r="4.7"/>
<circle cx="502.6" cy="394.2" r="4.7"/>
<circle cx="491.2" cy="362.9" r="4.7"/>
<circle cx="504.8" cy="466.2" r="4.7"/>
<circle cx="496.2" cy="535.0" r="4.7"/>
<circle cx="500.6" cy="460.3" r="4.7"/>
<circle cx="506.2" cy="344.3" r="4.7"/>
<circle cx="502.4" cy="399.8" r="4.7"/>
<circle cx="480.7" cy="381.9" r="4.7"/>
<circle cx="479.6" cy="428.4" r="4.7"/>
<circle cx="492.1" cy="425.8" r="4.7"/>
<circle cx="499.0" cy="419.4" r="4.7"/>
<circle cx="495.4" cy="418.4" r="4.7"/>
<circle cx="494.3" cy="397.3" r="4.7"/>
<circle cx="505.0" cy="505.0" r="4.7"/>
<circle cx="481.9" cy="373.9" r="4.7"/>
<circle cx="506.1" cy="378.1" r="4.7"/>
<circle cx="498.3" cy="356.8" r="4.7"/>
<circle cx="502.5" cy="390.1" r="4.7"/>
<circle cx="490.0" cy="368.4" r="4.7"/>
<circle cx="501.7" cy="386.7" r="4.7"/>
<circle cx="505.9" cy="353.0" r="4.7"/>
<circle cx="490.9" cy="363.9" r="4.7"/>
<circle cx="483.3" cy="476.8" r="4.7"/>
<circle cx="498.1" cy="382.8" r="4.7"/>
<circle cx="493.7" cy="372.8" r="4.7"/>
<circle cx="508.1" cy="427.4" r="4.7"/>
<circle cx="481.8" cy="527.8" r="4.7"/>
<circle cx="482.8" cy="366.9" r="4.7"/>
<circle cx="489.1" cy="411.4" r="4.7"/>
<circle cx="508.8" cy="368.2" r="4.7"/>
<circle cx="486.5" cy="461.3" r="4.7"/>
<circle cx="502.8" cy="472.7" r="4.7"/>
<circle cx="508.0" cy="403.0" r="4.7"/>
<circle cx="483.9" cy="357.9" r="4.7"/>
<circle cx="503.7" cy="477.6" r="4.7"/>
<circle cx="506.9" cy="464.5" r="4.7"/>
<circle cx="482.6" cy="422.6" r="4.7"/>
<circle cx="505.2" cy="361.4" r="4.7"/>
<circle cx="500.0" cy="510.0" r="4.7"/>
<circle cx="507.2" cy="350.8" r="4.7"/>
<circle cx="507.8" cy="480.1" r="4.7"/>
<circle cx="501.5" cy="387.4" r="4.7"/>
<circle cx="485.0" cy="484.4" r="4.7"/>
<circle cx="510.7" cy="454.9" r="4.7"/>
<circle cx="493.1" cy="452.4" r="4.7"/>
<circle cx="487.0" cy="363.4" r="4.7"/>
<circle cx="484.1" cy="393.8" r="4.7"/>
<circle cx="497.3" cy="436.2" r="4.7"/>
<circle cx="502.8" cy="473.0" r="4.7"/>
<circle cx="484.3" cy="379.3" r="4.7"/>
<circle cx="491.6" cy="376.0" r="4.7"/>
<circle cx="506.7" cy="382.6" r="4.7"/>
<circle cx="501.5" cy="382.1" r="4.7"/>
<circle cx="511.3" cy="370.2" r="4.7"/>
<circle cx="486.1" cy="547.9" r="4.7"/>
<circle cx="492.6" cy="461.9" r="4.7"/>
<circle cx="492.7" cy="403.4" r="4.7"/>
<circle cx="508.3" cy="365.3" r="4.7"/>
<circle cx="485.9" cy="386.5" r="4.7"/>
<circle cx="496.0" cy="426.2" r="4.7"/>
<circle cx="486.2" cy="455.8" r="4.7"/>
<circle cx="489.2" cy="456.4" r="4.7"/>
<circle cx="490.7" cy="365.9" r="4.7"/>
<circle cx="506.6" cy="473.0" r="4.7"/>
<circle cx="510.7" cy="450.0" r="4.7"/>
<circle cx="490.9" cy="414.9" r="4.7"/>
<circle cx="505.5" cy="463.0" r="4.7"/>
<circle cx="509.9" cy="398.1" r="4.7"/>
<circle cx="492.9" cy="404.4" r="4.7"/>
<circle cx="487.3" cy="386.4" r="4.7"/>
<circle cx="499.1" cy="509.8" r="4.7"/>
<circle cx="492.3" cy="401.6" r="4.7"/>
<circle cx="509.7" cy="350.6" r="4.7"/>
<circle cx="504.0" cy="391.7" r="4.7"/>
<circle cx="501.9" cy="358.1" r="4.7"/>
<circle cx="512.6" cy="432.1" r="4.7"/>
<circle cx="511.2" cy="337.0" r="4.7"/>
<circle cx="510.6" cy="427.1" r="4.7"/>
<circle cx="494.3" cy="423.4" r="4.7"/>
<circle cx="493.2" cy="346.5" r="4.7"/>
<circle cx="491.1" cy="376.0" r="4.7"/>
<circle cx="495.8" cy="506.1" r="4.7"/>
<circle cx="492.9" cy="396.7" r="4.7"/>
<circle cx="490.0" cy="385.1" r="4.7"/>
<circle cx="504.4" cy="395.2" r="4.7"/>
<circle cx="489.6" cy="388.2" r="4.7"/>
<circle cx="492.4" cy="414.4" r="4.7"/>
<circle cx="498.4" cy="433.9" r="4.7"/>
<circle cx="515.9" cy="414.7" r="4.7"/>
<circle cx="502.8" cy="426.2" r="4.7"/>
<circle cx="509.2" cy="393.2" r="4.7"/>
<circle cx="505.3" cy="470.2" r="4.7"/>
<circle cx="506.5" cy="363.2" r="4.7"/>
<circle cx="494.6" cy="456.2" r="4.7"/>
<circle cx="515.3" cy="481.7" r="4.7"/>
<circle cx="492.8" cy="384.7" r="4.7"/>
<circle cx="495.8" cy="525.6" r="4.7"/>
<circle cx="511.0" cy="462.5" r="4.7"/>
<circle cx="500.4" cy="374.7" r="4.7"/>
<circle cx="508.0" cy="421.0" r="4.7"/>
<circle cx="514.9" cy="489.8" r="4.7"/>
<circle cx="506.8" cy="386.6" r="4.7"/>
<circle cx="513.1" cy="399.5" r="4.7"/>
<circle cx="502.7" cy="423.6" r="4.7"/>
<circle cx="497.2" cy="448.5" r="4.7"/>
<circle cx="500.6" cy="443.4" r="4.7"/>
<circle cx="507.5" cy="396.5" r="4.7"/>
<circle cx="512.9" cy="399.3" r="4.7"/>
<circle cx="496.1" cy="469.3" r="4.7"/>
<circle cx="512.9" cy="385.9" r="4.7"/>
<circle cx="503.3" cy="362.2" r="4.7"/>
<circle cx="492.8" cy="396.9" r="4.7"/>
<circle cx="516.9" cy="328.2" r="4.7"/>
<circle cx="509.6" cy="404.5" r="4.7"/>
<circle cx="507.3" cy="362.9" r="4.7"/>
<circle cx="496.7" cy="400.0" r="4.7"/>
<circle cx="501.7" cy="355.4" r="4.7"/>
<circle cx="494.5" cy="421.1" r="4.7"/>
<circle cx="500.6" cy="383.2" r="4.7"/>
<circle cx="513.6" cy="353.4" r="4.7"/>
<circle cx="506.1" cy="389.6" r="4.7"/>
<circle cx="499.1" cy="547.7" r="4.7"/>
<circle cx="505.6" cy="470.3" r="4.7"/>
<circle cx="495.9" cy="407.1" r="4.7"/>
<circle cx="509.2" cy="356.6" r="4.7"/>
<circle cx="510.1" cy="383.2" r="4.7"/>
<circle cx="499.6" cy="348.9" r="4.7"/>
<circle cx="517.2" cy="462.7" r="4.7"/>
<circle cx="506.8" cy="357.1" r="4.7"/>
<circle cx="494.7" cy="404.7" r="4.7"/>
<circle cx="516.1" cy="368.6" r="4.7"/>
<circle cx="507.6" cy="444.7" r="4.7"/>
<circle cx="504.1" cy="441.2" r="4.7"/>
<circle cx="505.6" cy="422.3" r="4.7"/>
<circle cx="514.9" cy="423.1" r="4.7"/>
<circle cx="510.4" cy="378.2" r="4.7"/>
<circle cx="498.0" cy="496.8" r="4.7"/>
<circle cx="505.4" cy="385.5" r="4.7"/>
<circle cx="514.3" cy="402.9" r="4.7"/>
<circle cx="520.1" cy="350.7" r="4.7"/>
<circle cx="496.4" cy="376.4" r="4.7"/>
<circle cx="508.5" cy="384.2" r="4.7"/>
<circle cx="504.3" cy="388.7" r="4.7"/>
<circle cx="502.9" cy="424.4" r="4.7"/>
<circle cx="502.1" cy="359.1" r="4.7"/>
<circle cx="494.6" cy="398.8" r="4.7"/>
<circle cx="512.6" cy="417.0" r="4.7"/>
<circle cx="495.8" cy="534.7" r="4.7"/>
<circle cx="504.2" cy="438.3" r="4.7"/>
<circle cx="499.0" cy="473.0" r="4.7"/>
<circle cx="514.4" cy="455.9" r="4.7"/>
<circle cx="513.2" cy="458.8" r="4.7"/>
<circle cx="497.7" cy="384.3" r="4.7"/>
<circle cx="514.4" cy="357.0" r="4.7"/>
<circle cx="507.9" cy="355.1" r="4.7"/>
<circle cx="521.6" cy="378.5" r="4.7"/>
<circle cx="505.2" cy="360.6" r="4.7"/>
<circle cx="506.7" cy="346.1" r="4.7"/>
<circle cx="515.1" cy="466.4" r="4.7"/>
<circle cx="517.1" cy="349.7" r="4.7"/>
<circle cx="513.1" cy="433.6" r="4.7"/>
<circle cx="517.4" cy="370.5" r="4.7"/>
<circle cx="510.5" cy="403.3" r="4.7"/>
<circle cx="505.3" cy="374.8" r="4.7"/>
<circle cx="517.8" cy="449.4" r="4.7"/>
<circle cx="497.0" cy="438.8" r="4.7"/>
<circle cx="497.6" cy="448.9" r="4.7"/>
<circle cx="497.2" cy="375.5" r="4.7"/>
<circle cx="512.4" cy="429.2" r="4.7"/>
<circle cx="511.8" cy="441.0" r="4.7"/>
<circle cx="515.7" cy="379.2" r="4.7"/>
<circle cx="518.3" cy="381.2" r="4.7"/>
<circle cx="519.6" cy="425.1" r="4.7"/>
<circle cx="521.2" cy="414.9" r="4.7"/>
<circle cx="508.8" cy="462.2" r="4.7"/>
<circle cx="508.8" cy="375.0" r="4.7"/>
<circle cx="508.5" cy="446.1" r="4.7"/>
<circle cx="522.8" cy="375.0" r="4.7"/>
<circle cx="504.9" cy="504.6" r="4.7"/>
<circle cx="509.5" cy="417.9" r="4.7"/>
<circle cx="507.1" cy="456.3" r="4.7"/>
<circle cx="504.8" cy="390.7" r="4.7"/>
<circle cx="503.8" cy="370.5" r="4.7"/>
<circle cx="502.2" cy="389.1" r="4.7"/>
<circle cx="506.7" cy="417.3" r="4.7"/>
<circle cx="517.6" cy="375.9" r="4.7"/>
<circle cx="512.0" cy="442.1" r="4.7"/>
<circle cx="508.8" cy="421.2" r="4.7"/>
<circle cx="507.0" cy="417.5" r="4.7"/>
<circle cx="514.9" cy="510.6" r="4.7"/>
<circle cx="521.3" cy="422.1" r="4.7"/>
<circle cx="509.2" cy="342.3" r="4.7"/>
<circle cx="511.1" cy="351.6" r="4.7"/>
<circle cx="503.2" cy="361.7" r="4.7"/>
<circle cx="512.4" cy="440.0" r="4.7"/>
<circle cx="521.4" cy="372.9" r="4.7"/>
<circle cx="505.9" cy="470.8" r="4.7"/>
<circle cx="525.3" cy="412.8" r="4.7"/>
<circle cx="515.5" cy="442.3" r="4.7"/>
<circle cx="527.1" cy="357.0" r="4.7"/>
<circle cx="509.4" cy="415.9" r="4.7"/>
<circle cx="518.8" cy="453.3" r="4.7"/>
<circle cx="515.3" cy="423.0" r="4.7"/>
<circle cx="514.6" cy="414.2" r="4.7"/>
<circle cx="523.8" cy="432.6" r="4.7"/>
<circle cx="517.6" cy="348.1" r="4.7"/>
<circle cx="515.0" cy="510.7" r="4.7"/>
<circle cx="515.3" cy="434.2" r="4.7"/>
<circle cx="521.1" cy="395.3" r="4.7"/>
<circle cx="528.1" cy="345.7" r="4.7"/>
<circle cx="522.2" cy="381.7" r="4.7"/>
<circle cx="530.4" cy="397.6" r="4.7"/>
<circle cx="510.6" cy="337.3" r="4.7"/>
<circle cx="515.9" cy="356.0" r="4.7"/>
<circle cx="509.9" cy="545.1" r="4.7"/>
<circle cx="508.8" cy="552.0" r="4.7"/>
<circle cx="506.5" cy="355.1" r="4.7"/>
<circle cx="527.7" cy="367.7" r="4.7"/>
<circle cx="511.7" cy="425.8" r="4.7"/>
<circle cx="528.5" cy="396.3" r="4.7"/>
<circle cx="508.2" cy="461.5" r="4.7"/>
<circle cx="521.0" cy="414.9" r="4.7"/>
<circle cx="517.7" cy="465.8" r="4.7"/>
<circle cx="509.3" cy="491.6" r="4.7"/>
<circle cx="522.8" cy="346.4" r="4.7"/>
<circle cx="505.4" cy="448.6" r="4.7"/>
<circle cx="521.5" cy="369.1" r="4.7"/>
<circle cx="526.8" cy="344.1" r="4.7"/>
<circle cx="515.8" cy="463.2" r="4.7"/>
<circle cx="513.2" cy="475.8" r="4.7"/>
<circle cx="525.2" cy="431.4" r="4.7"/>
<circle cx="522.3" cy="441.1" r="4.7"/>
<circle cx="522.0" cy="458.1" r="4.7"/>
<circle cx="506.3" cy="453.2" r="4.7"/>
<circle cx="530.8" cy="455.8" r="4.7"/>
<circle cx="521.7" cy="366.7" r="4.7"/>
<circle cx="525.5" cy="485.9" r="4.7"/>
<circle cx="512.7" cy="432.1" r="4.7"/>
<circle cx="520.7" cy="401.4" r="4.7"/>
<circle cx="505.8" cy="477.8" r="4.7"/>
<circle cx="525.2" cy="348.0" r="4.7"/>
<circle cx="506.2" cy="393.8" r="4.7"/>
<circle cx="528.7" cy="457.9" r="4.7"/>
<circle cx="530.9" cy="532.1" r="4.7"/>
<circle cx="513.4" cy="436.0" r="4.7"/>
<circle cx="522.9" cy="360.1" r="4.7"/>
<circle cx="508.2" cy="455.8" r="4.7"/>
<circle cx="509.4" cy="396.1" r="4.7"/>
<circle cx="513.6" cy="467.1" r="4.7"/>
<circle cx="512.8" cy="383.9" r="4.7"/>
<circle cx="507.8" cy="344.4" r="4.7"/>
<circle cx="519.3" cy="339.5" r="4.7"/>
<circle cx="523.7" cy="362.2" r="4.7"/>
<circle cx="529.4" cy="353.5" r="4.7"/>
<circle cx="529.9" cy="494.6" r="4.7"/>
<circle cx="527.7" cy="390.1" r="4.7"/>
<circle cx="515.3" cy="355.9" r="4.7"/>
<circle cx="534.4" cy="349.5" r="4.7"/>
<circle cx="529.1" cy="446.1" r="4.7"/>
<circle cx="508.4" cy="387.1" r="4.7"/>
<circle cx="519.7" cy="341.0" r="4.7"/>
<circle cx="523.8" cy="479.8" r="4.7"/>
<circle cx="527.1" cy="456.1" r="4.7"/>
<circle cx="532.5" cy="414.0" r="4.7"/>
<circle cx="528.5" cy="401.4" r="4.7"/>
<circle cx="520.0" cy="348.9" r="4.7"/>
<circle cx="510.4" cy="432.8" r="4.7"/>
<circle cx="531.5" cy="427.9" r="4.7"/>
<circle cx="524.5" cy="360.0" r="4.7"/>
<circle cx="520.8" cy="547.7" r="4.7"/>
<circle cx="521.9" cy="450.6" r="4.7"/>
<circle cx="537.6" cy="433.3" r="4.7"/>
<circle cx="521.7" cy="466.2" r="4.7"/>
<circle cx="521.9" cy="351.8" r="4.7"/>
<circle cx="522.1" cy="473.4" r="4.7"/>
<circle cx="521.9" cy="474.7" r="4.7"/>
<circle cx="517.6" cy="395.3" r="4.7"/>
<circle cx="528.3" cy="477.8" r="4.7"/>
<circle cx="511.3" cy="406.9" r="4.7"/>
<circle cx="530.3" cy="447.4" r="4.7"/>
<circle cx="514.0" cy="388.1" r="4.7"/>
<circle cx="518.9" cy="441.0" r="4.7"/>
<circle cx="526.9" cy="447.1" r="4.7"/>
<circle cx="531.5" cy="436.2" r="4.7"/>
<circle cx="533.2" cy="447.6" r="4.7"/>
<circle cx="527.7" cy="390.9" r="4.7"/>
<circle cx="538.9" cy="353.4" r="4.7"/>
<circle cx="536.6" cy="354.6" r="4.7"/>
<circle cx="537.9" cy="350.2" r="4.7"/>
<circle cx="513.4" cy="436.0" r="4.7"/>
<circle cx="529.8" cy="348.6" r="4.7"/>
<circle cx="528.1" cy="461.8" r="4.7"/>
<circle cx="533.7" cy="375.1" r="4.7"/>
<circle cx="519.7" cy="344.7" r="4.7"/>
<circle cx="519.2" cy="440.5" r="4.7"/>
<circle cx="529.1" cy="470.4" r="4.7"/>
<circle cx="541.0" cy="385.7" r="4.7"/>
<circle cx="526.2" cy="361.8" r="4.7"/>
<circle cx="539.1" cy="349.8" r="4.7"/>
<circle cx="522.3" cy="374.7" r="4.7"/>
<circle cx="524.4" cy="342.2" r="4.7"/>
<circle cx="521.9" cy="369.0" r="4.7"/>
<circle cx="520.4" cy="364.3" r="4.7"/>
<circle cx="537.0" cy="380.4" r="4.7"/>
<circle cx="536.4" cy="383.3" r="4.7"/>
<circle cx="522.5" cy="367.0" r="4.7"/>
<circle cx="520.8" cy="427.7" r="4.7"/>
<circle cx="525.3" cy="374.4" r="4.7"/>
<circle cx="517.4" cy="373.6" r="4.7"/>
<circle cx="542.5" cy="358.0" r="4.7"/>
<circle cx="524.1" cy="444.4" r="4.7"/>
<circle cx="519.2" cy="443.8" r="4.7"/>
<circle cx="541.9" cy="426.4" r="4.7"/>
<circle cx="527.4" cy="459.2" r="4.7"/>
<circle cx="534.3" cy="429.9" r="4.7"/>
<circle cx="536.5" cy="343.0" r="4.7"/>
<circle cx="527.0" cy="515.0" r="4.7"/>
<circle cx="525.7" cy="472.5" r="4.7"/>
<circle cx="536.5" cy="455.4" r="4.7"/>
<circle cx="536.4" cy="422.8" r="4.7"/>
<circle cx="536.6" cy="370.6" r="4.7"/>
<circle cx="527.7" cy="358.5" r="4.7"/>
<circle cx="526.8" cy="515.2" r="4.7"/>
<circle cx="538.2" cy="375.1" r="4.7"/>
<circle cx="543.5" cy="522.3" r="4.7"/>
<circle cx="542.0" cy="345.4" r="4.7"/>
<circle cx="540.3" cy="545.1" r="4.7"/>
<circle cx="536.9" cy="368.9" r="4.7"/>
<circle cx="519.2" cy="368.2" r="4.7"/>
<circle cx="543.2" cy="424.5" r="4.7"/>
<circle cx="537.7" cy="356.9" r="4.7"/>
<circle cx="517.0" cy="363.1" r="4.7"/>
<circle cx="532.7" cy="367.5" r="4.7"/>
<circle cx="536.3" cy="364.9" r="4.7"/>
<circle cx="538.4" cy="441.8" r="4.7"/>
<circle cx="526.8" cy="367.6" r="4.7"/>
<circle cx="520.8" cy="427.6" r="4.7"/>
<circle cx="544.0" cy="386.8" r="4.7"/>
<circle cx="545.2" cy="354.3" r="4.7"/>
<circle cx="532.9" cy="371.6" r="4.7"/>
<circle cx="534.2" cy="435.0" r="4.7"/>
<circle cx="534.5" cy="437.6" r="4.7"/>
<circle cx="537.0" cy="417.9" r="4.7"/>
<circle cx="540.9" cy="424.6" r="4.7"/>
<circle cx="521.0" cy="366.9" r="4.7"/>
<circle cx="533.4" cy="340.8" r="4.7"/>
<circle cx="530.8" cy="450.5" r="4.7"/>
<circle cx="538.1" cy="426.4" r="4.7"/>
<circle cx="527.7" cy="399.8" r="4.7"/>
<circle cx="525.9" cy="399.0" r="4.7"/>
<circle cx="531.1" cy="359.0" r="4.7"/>
<circle cx="533.7" cy="376.0" r="4.7"/>
<circle cx="542.4" cy="346.3" r="4.7"/>
<circle cx="544.3" cy="372.5" r="4.7"/>
<circle cx="527.7" cy="387.6" r="4.7"/>
<circle cx="528.3" cy="367.5" r="4.7"/>
<circle cx="524.0" cy="398.5" r="4.7"/>
<circle cx="528.3" cy="386.5" r="4.7"/>
<circle cx="525.3" cy="383.7" r="4.7"/>
<circle cx="538.7" cy="373.1" r="4.7"/>
<circle cx="525.9" cy="423.1" r="4.7"/>
<circle cx="539.9" cy="392.5" r="4.7"/>
<circle cx="545.0" cy="424.4" r="4.7"/>
<circle cx="542.0" cy="492.0" r="4.7"/>
<circle cx="535.7" cy="426.8" r="4.7"/>
<circle cx="534.0" cy="352.3" r="4.7"/>
<circle cx="545.2" cy="424.3" r="4.7"/>
<circle cx="528.1" cy="451.6" r="4.7"/>
<circle cx="544.4" cy="348.5" r="4.7"/>
<circle cx="542.0" cy="397.9" r="4.7"/>
<circle cx="528.5" cy="364.9" r="4.7"/>
<circle cx="521.7" cy="366.6" r="4.7"/>
<circle cx="525.0" cy="346.8" r="4.7"/>
<circle cx="541.3" cy="534.3" r="4.7"/>
<circle cx="542.8" cy="358.5" r="4.7"/>
<circle cx="528.6" cy="357.8" r="4.7"/>
<circle cx="549.2" cy="422.8" r="4.7"/>
<circle cx="525.4" cy="352.3" r="4.7"/>
<circle cx="544.0" cy="391.7" r="4.7"/>
<circle cx="522.7" cy="437.8" r="4.7"/>
<circle cx="535.2" cy="339.6" r="4.7"/>
<circle cx="524.4" cy="469.7" r="4.7"/>
<circle cx="537.8" cy="383.7" r="4.7"/>
<circle cx="546.4" cy="414.1" r="4.7"/>
<circle cx="538.0" cy="425.7" r="4.7"/>
<circle cx="544.4" cy="442.4" r="4.7"/>
<circle cx="540.1" cy="362.9" r="4.7"/>
<circle cx="545.3" cy="457.8" r="4.7"/>
<circle cx="530.8" cy="398.7" r="4.7"/>
<circle cx="526.4" cy="380.5" r="4.7"/>
<circle cx="548.2" cy="380.3" r="4.7"/>
<circle cx="532.2" cy="461.2" r="4.7"/>
<circle cx="541.8" cy="352.3" r="4.7"/>
<circle cx="525.9" cy="478.0" r="4.7"/>
<circle cx="534.9" cy="358.5" r="4.7"/>
<circle cx="540.6" cy="412.3" r="4.7"/>
<circle cx="544.2" cy="346.2" r="4.7"/>
<circle cx="544.6" cy="473.6" r="4.7"/>
<circle cx="537.6" cy="343.1" r="4.7"/>
<circle cx="525.7" cy="342.1" r="4.7"/>
<circle cx="528.4" cy="345.1" r="4.7"/>
<circle cx="531.1" cy="477.5" r="4.7"/>
<circle cx="543.3" cy="377.3" r="4.7"/>
<circle cx="536.3" cy="346.6" r="4.7"/>
<circle cx="530.9" cy="344.1" r="4.7"/>
<circle cx="530.3" cy="353.8" r="4.7"/>
<circle cx="533.0" cy="363.3" r="4.7"/>
<circle cx="532.1" cy="434.5" r="4.7"/>
<circle cx="544.1" cy="428.9" r="4.7"/>
<circle cx="546.3" cy="375.5" r="4.7"/>
<circle cx="540.1" cy="387.9" r="4.7"/>
<circle cx="527.3" cy="381.5" r="4.7"/>
<circle cx="527.2" cy="451.9" r="4.7"/>
<circle cx="552.1" cy="443.3" r="4.7"/>
<circle cx="539.7" cy="366.0" r="4.7"/>
<circle cx="526.8" cy="443.1" r="4.7"/>
<circle cx="548.2" cy="449.2" r="4.7"/>
<circle cx="527.1" cy="400.1" r="4.7"/>
<circle cx="530.2" cy="370.4" r="4.7"/>
<circle cx="544.9" cy="451.9" r="4.7"/>
<circle cx="542.5" cy="396.7" r="4.7"/>
<circle cx="539.7" cy="364.9" r="4.7"/>
<circle cx="537.0" cy="455.4" r="4.7"/>
<circle cx="549.4" cy="447.0" r="4.7"/>
<circle cx="543.4" cy="421.6" r="4.7"/>
<circle cx="539.4" cy="373.2" r="4.7"/>
<circle cx="538.1" cy="470.3" r="4.7"/>
<circle cx="540.5" cy="448.4" r="4.7"/>
<circle cx="543.4" cy="365.9" r="4.7"/>
<circle cx="546.0" cy="428.4" r="4.7"/>
<circle cx="547.4" cy="472.5" r="4.7"/>
<circle cx="535.2" cy="351.3" r="4.7"/>
<circle cx="550.6" cy="358.2" r="4.7"/>
<circle cx="533.9" cy="426.0" r="4.7"/>
<circle cx="538.8" cy="470.0" r="4.7"/>
<circle cx="548.4" cy="392.3" r="4.7"/>
<circle cx="542.4" cy="484.0" r="4.7"/>
<circle cx="538.2" cy="363.5" r="4.7"/>
<circle cx="536.6" cy="472.7" r="4.7"/>
<circle cx="545.1" cy="359.0" r="4.7"/>
<circle cx="532.6" cy="375.2" r="4.7"/>
<circle cx="537.4" cy="445.7" r="4.7"/>
<circle cx="538.5" cy="411.9" r="4.7"/>
<circle cx="557.2" cy="369.7" r="4.7"/>
<circle cx="550.4" cy="463.4" r="4.7"/>
<circle cx="535.8" cy="414.3" r="4.7"/>
<circle cx="548.9" cy="405.7" r="4.7"/>
<circle cx="541.2" cy="366.6" r="4.7"/>
<circle cx="532.1" cy="392.1" r="4.7"/>
<circle cx="534.8" cy="372.6" r="4.7"/>
<circle cx="555.8" cy="384.3" r="4.7"/>
<circle cx="550.3" cy="342.3" r="4.7"/>
<circle cx="531.1" cy="471.1" r="4.7"/>
<circle cx="533.3" cy="453.9" r="4.7"/>
<circle cx="554.3" cy="541.8" r="4.7"/>
<circle cx="533.4" cy="476.1" r="4.7"/>
<circle cx="551.0" cy="406.7" r="4.7"/>
<circle cx="557.6" cy="503.9" r="4.7"/>
<circle cx="541.0" cy="342.2" r="4.7"/>
<circle cx="541.5" cy="340.7" r="4.7"/>
<circle cx="547.5" cy="469.3" r="4.7"/>
<circle cx="559.5" cy="449.1" r="4.7"/>
<circle cx="555.8" cy="341.0" r="4.7"/>
<circle cx="539.1" cy="379.6" r="4.7"/>
<circle cx="558.4" cy="370.1" r="4.7"/>
<circle cx="542.3" cy="429.8" r="4.7"/>
<circle cx="543.1" cy="373.8" r="4.7"/>
<circle cx="534.5" cy="410.9" r="4.7"/>
<circle cx="543.0" cy="370.0" r="4.7"/>
<circle cx="550.8" cy="467.9" r="4.7"/>
<circle cx="551.7" cy="419.2" r="4.7"/>
<circle cx="552.6" cy="386.1" r="4.7"/>
<circle cx="551.1" cy="522.8" r="4.7"/>
<circle cx="545.2" cy="509.8" r="4.7"/>
<circle cx="558.9" cy="370.7" r="4.7"/>
<circle cx="535.0" cy="636.2" r="4.7"/>
<circle cx="550.6" cy="470.9" r="4.7"/>
<circle cx="551.6" cy="365.2" r="4.7"/>
<circle cx="561.9" cy="405.1" r="4.7"/>
<circle cx="539.8" cy="436.8" r="4.7"/>
<circle cx="544.2" cy="338.6" r="4.7"/>
<circle cx="562.5" cy="543.0" r="4.7"/>
<circle cx="550.6" cy="465.6" r="4.7"/>
<circle cx="537.2" cy="377.7" r="4.7"/>
<circle cx="556.5" cy="367.9" r="4.7"/>
<circle cx="554.3" cy="345.2" r="4.7"/>
<circle cx="536.2" cy="368.6" r="4.7"/>
<circle cx="544.7" cy="412.8" r="4.7"/>
<circle cx="537.7" cy="425.9" r="4.7"/>
<circle cx="545.6" cy="441.0" r="4.7"/>
<circle cx="538.3" cy="364.7" r="4.7"/>
<circle cx="556.1" cy="360.3" r="4.7"/>
<circle cx="559.8" cy="335.7" r="4.7"/>
<circle cx="559.5" cy="362.7" r="4.7"/>
<circle cx="538.2" cy="383.0" r="4.7"/>
<circle cx="540.0" cy="416.4" r="4.7"/>
<circle cx="538.9" cy="416.2" r="4.7"/>
<circle cx="549.1" cy="352.5" r="4.7"/>
<circle cx="561.7" cy="428.9" r="4.7"/>
<circle cx="554.8" cy="333.3" r="4.7"/>
<circle cx="547.9" cy="366.4" r="4.7"/>
<circle cx="560.8" cy="499.6" r="4.7"/>
<circle cx="542.7" cy="376.8" r="4.7"/>
<circle cx="559.1" cy="439.6" r="4.7"/>
<circle cx="561.1" cy="441.0" r="4.7"/>
<circle cx="545.2" cy="407.0" r="4.7"/>
<circle cx="560.7" cy="371.2" r="4.7"/>
<circle cx="544.2" cy="386.4" r="4.7"/>
<circle cx="548.8" cy="336.0" r="4.7"/>
<circle cx="540.4" cy="388.7" r="4.7"/>
<circle cx="542.8" cy="404.7" r="4.7"/>
<circle cx="547.5" cy="371.6" r="4.7"/>
<circle cx="539.5" cy="466.2" r="4.7"/>
<circle cx="561.9" cy="348.4" r="4.7"/>
<circle cx="549.3" cy="377.2" r="4.7"/>
<circle cx="564.1" cy="392.7" r="4.7"/>
<circle cx="561.9" cy="344.7" r="4.7"/>
<circle cx="553.5" cy="396.4" r="4.7"/>
<circle cx="558.4" cy="377.3" r="4.7"/>
<circle cx="551.5" cy="534.3" r="4.7"/>
<circle cx="546.8" cy="535.3" r="4.7"/>
<circle cx="558.7" cy="480.1" r="4.7"/>
<circle cx="543.6" cy="439.4" r="4.7"/>
<circle cx="561.9" cy="542.9" r="4.7"/>
<circle cx="568.1" cy="465.2" r="4.7"/>
<circle cx="546.9" cy="444.5" r="4.7"/>
<circle cx="544.1" cy="476.3" r="4.7"/>
<circle cx="563.0" cy="411.6" r="4.7"/>
<circle cx="545.9" cy="368.4" r="4.7"/>
<circle cx="557.5" cy="338.6" r="4.7"/>
<circle cx="564.9" cy="379.5" r="4.7"/>
<circle cx="567.6" cy="446.5" r="4.7"/>
<circle cx="556.3" cy="461.4" r="4.7"/>
<circle cx="546.6" cy="387.4" r="4.7"/>
<circle cx="547.6" cy="361.3" r="4.7"/>
<circle cx="547.5" cy="376.9" r="4.7"/>
<circle cx="552.8" cy="550.1" r="4.7"/>
<circle cx="547.9" cy="354.8" r="4.7"/>
<circle cx="550.0" cy="473.6" r="4.7"/>
<circle cx="554.2" cy="363.9" r="4.7"/>
<circle cx="549.5" cy="442.1" r="4.7"/>
<circle cx="559.6" cy="376.3" r="4.7"/>
<circle cx="568.4" cy="453.9" r="4.7"/>
<circle cx="564.1" cy="445.3" r="4.7"/>
<circle cx="552.8" cy="426.1" r="4.7"/>
<circle cx="547.8" cy="553.1" r="4.7"/>
<circle cx="558.2" cy="434.1" r="4.7"/>
<circle cx="553.3" cy="438.9" r="4.7"/>
<circle cx="567.8" cy="349.8" r="4.7"/>
<circle cx="548.7" cy="378.2" r="4.7"/>
<circle cx="550.5" cy="353.3" r="4.7"/>
<circle cx="553.8" cy="434.9" r="4.7"/>
<circle cx="548.3" cy="421.1" r="4.7"/>
<circle cx="568.7" cy="505.0" r="4.7"/>
<circle cx="551.8" cy="362.3" r="4.7"/>
<circle cx="548.9" cy="507.6" r="4.7"/>
<circle cx="567.5" cy="454.2" r="4.7"/>
<circle cx="562.3" cy="339.0" r="4.7"/>
<circle cx="552.6" cy="395.8" r="4.7"/>
<circle cx="546.8" cy="343.2" r="4.7"/>
<circle cx="560.5" cy="370.7" r="4.7"/>
<circle cx="562.2" cy="345.9" r="4.7"/>
<circle cx="555.9" cy="513.0" r="4.7"/>
<circle cx="551.5" cy="421.9" r="4.7"/>
<circle cx="554.1" cy="360.6" r="4.7"/>
<circle cx="567.8" cy="452.1" r="4.7"/>
<circle cx="563.5" cy="428.0" r="4.7"/>
<circle cx="572.8" cy="433.3" r="4.7"/>
<circle cx="562.2" cy="364.7" r="4.7"/>
<circle cx="550.6" cy="473.9" r="4.7"/>
<circle cx="569.1" cy="504.6" r="4.7"/>
<circle cx="566.5" cy="446.5" r="4.7"/>
<circle cx="566.8" cy="336.4" r="4.7"/>
<circle cx="573.0" cy="332.7" r="4.7"/>
<circle cx="553.7" cy="375.9" r="4.7"/>
<circle cx="561.4" cy="444.8" r="4.7"/>
<circle cx="566.3" cy="463.7" r="4.7"/>
<circle cx="571.3" cy="349.9" r="4.7"/>
<circle cx="568.4" cy="354.1" r="4.7"/>
<circle cx="566.9" cy="341.3" r="4.7"/>
<circle cx="572.4" cy="355.9" r="4.7"/>
<circle cx="560.5" cy="432.8" r="4.7"/>
<circle cx="572.7" cy="453.9" r="4.7"/>
<circle cx="562.2" cy="384.0" r="4.7"/>
<circle cx="557.4" cy="367.5" r="4.7"/>
<circle cx="555.0" cy="344.5" r="4.7"/>
<circle cx="566.6" cy="349.5" r="4.7"/>
<circle cx="577.5" cy="333.0" r="4.7"/>
<circle cx="573.3" cy="368.3" r="4.7"/>
<circle cx="559.3" cy="340.6" r="4.7"/>
<circle cx="570.1" cy="351.1" r="4.7"/>
<circle cx="575.0" cy="366.8" r="4.7"/>
<circle cx="556.5" cy="419.0" r="4.7"/>
<circle cx="573.7" cy="353.1" r="4.7"/>
<circle cx="563.5" cy="444.4" r="4.7"/>
<circle cx="571.2" cy="361.9" r="4.7"/>
<circle cx="573.8" cy="335.8" r="4.7"/>
<circle cx="554.0" cy="336.9" r="4.7"/>
<circle cx="574.9" cy="485.5" r="4.7"/>
<circle cx="578.3" cy="364.5" r="4.7"/>
<circle cx="572.9" cy="452.9" r="4.7"/>
<circle cx="552.1" cy="348.6" r="4.7"/>
<circle cx="565.6" cy="500.2" r="4.7"/>
<circle cx="577.7" cy="335.6" r="4.7"/>
<circle cx="565.2" cy="358.6" r="4.7"/>
<circle cx="559.7" cy="357.5" r="4.7"/>
<circle cx="569.9" cy="361.4" r="4.7"/>
<circle cx="559.7" cy="341.8" r="4.7"/>
<circle cx="561.3" cy="428.8" r="4.7"/>
<circle cx="554.4" cy="379.2" r="4.7"/>
<circle cx="564.6" cy="435.5" r="4.7"/>
<circle cx="559.9" cy="441.3" r="4.7"/>
<circle cx="567.2" cy="360.6" r="4.7"/>
<circle cx="569.5" cy="414.8" r="4.7"/>
<circle cx="571.6" cy="376.1" r="4.7"/>
<circle cx="554.2" cy="439.5" r="4.7"/>
<circle cx="577.7" cy="534.9" r="4.7"/>
<circle cx="557.8" cy="424.7" r="4.7"/>
<circle cx="562.8" cy="444.2" r="4.7"/>
<circle cx="562.9" cy="351.2" r="4.7"/>
<circle cx="568.0" cy="392.1" r="4.7"/>
<circle cx="573.7" cy="454.6" r="4.7"/>
<circle cx="558.7" cy="342.6" r="4.7"/>
<circle cx="559.7" cy="356.7" r="4.7"/>
<circle cx="573.2" cy="346.7" r="4.7"/>
<circle cx="577.7" cy="358.9" r="4.7"/>
<circle cx="576.6" cy="369.7" r="4.7"/>
<circle cx="578.8" cy="342.9" r="4.7"/>
<circle cx="576.2" cy="365.3" r="4.7"/>
<circle cx="562.3" cy="431.3" r="4.7"/>
<circle cx="581.2" cy="352.7" r="4.7"/>
<circle cx="565.9" cy="444.9" r="4.7"/>
<circle cx="566.2" cy="460.2" r="4.7"/>
<circle cx="569.0" cy="435.1" r="4.7"/>
<circle cx="580.3" cy="486.6" r="4.7"/>
<circle cx="556.6" cy="445.4" r="4.7"/>
<circle cx="556.8" cy="460.5" r="4.7"/>
<circle cx="560.3" cy="343.0" r="4.7"/>
<circle cx="558.9" cy="439.9" r="4.7"/>
<circle cx="570.5" cy="539.2" r="4.7"/>
<circle cx="584.4" cy="355.1" r="4.7"/>
<circle cx="567.1" cy="436.3" r="4.7"/>
<circle cx="570.4" cy="456.5" r="4.7"/>
<circle cx="562.7" cy="352.8" r="4.7"/>
<circle cx="581.6" cy="366.1" r="4.7"/>
<circle cx="583.1" cy="348.8" r="4.7"/>
<circle cx="574.7" cy="344.7" r="4.7"/>
<circle cx="577.1" cy="443.9" r="4.7"/>
<circle cx="579.2" cy="585.0" r="4.7"/>
<circle cx="560.8" cy="470.3" r="4.7"/>
<circle cx="586.5" cy="354.8" r="4.7"/>
<circle cx="567.9" cy="346.5" r="4.7"/>
<circle cx="570.6" cy="345.5" r="4.7"/>
<circle cx="578.3" cy="456.6" r="4.7"/>
<circle cx="587.0" cy="356.1" r="4.7"/>
<circle cx="565.9" cy="342.1" r="4.7"/>
<circle cx="575.2" cy="372.4" r="4.7"/>
<circle cx="571.5" cy="448.0" r="4.7"/>
<circle cx="563.1" cy="359.9" r="4.7"/>
<circle cx="583.7" cy="349.8" r="4.7"/>
<circle cx="573.0" cy="341.2" r="4.7"/>
<circle cx="579.6" cy="359.5" r="4.7"/>
<circle cx="570.2" cy="360.1" r="4.7"/>
<circle cx="566.4" cy="357.5" r="4.7"/>
<circle cx="571.7" cy="451.3" r="4.7"/>
<circle cx="589.6" cy="361.4" r="4.7"/>
<circle cx="579.4" cy="353.0" r="4.7"/>
<circle cx="569.1" cy="485.1" r="4.7"/>
<circle cx="566.3" cy="429.4" r="4.7"/>
<circle cx="572.9" cy="355.1" r="4.7"/>
<circle cx="591.2" cy="370.7" r="4.7"/>
<circle cx="576.4" cy="364.1" r="4.7"/>
<circle cx="585.7" cy="350.9" r="4.7"/>
<circle cx="578.4" cy="360.6" r="4.7"/>
<circle cx="568.9" cy="345.3" r="4.7"/>
<circle cx="589.1" cy="357.3" r="4.7"/>
<circle cx="580.5" cy="363.9" r="4.7"/>
<circle cx="570.9" cy="365.8" r="4.7"/>
<circle cx="584.7" cy="369.9" r="4.7"/>
<circle cx="588.2" cy="366.6" r="4.7"/>
<circle cx="576.1" cy="362.5" r="4.7"/>
<circle cx="574.9" cy="341.8" r="4.7"/>
<circle cx="566.0" cy="453.9" r="4.7"/>
<circle cx="580.6" cy="371.0" r="4.7"/>
<circle cx="567.2" cy="358.8" r="4.7"/>
<circle cx="571.7" cy="376.6" r="4.7"/>
<circle cx="583.0" cy="357.5" r="4.7"/>
<circle cx="586.5" cy="357.8" r="4.7"/>
<circle cx="569.7" cy="458.0" r="4.7"/>
<circle cx="572.2" cy="359.1" r="4.7"/>
<circle cx="570.0" cy="444.3" r="4.7"/>
<circle cx="569.1" cy="362.6" r="4.7"/>
<circle cx="590.1" cy="358.9" r="4.7"/>
<circle cx="569.8" cy="341.7" r="4.7"/>
<circle cx="588.4" cy="339.2" r="4.7"/>
<circle cx="569.6" cy="345.3" r="4.7"/>
<circle cx="571.0" cy="539.2" r="4.7"/>
<circle cx="594.7" cy="368.2" r="4.7"/>
<circle cx="577.0" cy="361.8" r="4.7"/>
<circle cx="568.7" cy="374.9" r="4.7"/>
<circle cx="594.0" cy="521.9" r="4.7"/>
<circle cx="584.2" cy="350.3" r="4.7"/>
<circle cx="570.7" cy="353.0" r="4.7"/>
<circle cx="579.9" cy="344.1" r="4.7"/>
<circle cx="586.4" cy="355.6" r="4.7"/>
<circle cx="579.3" cy="381.9" r="4.7"/>
<circle cx="595.9" cy="349.9" r="4.7"/>
<circle cx="587.5" cy="354.9" r="4.7"/>
<circle cx="585.5" cy="343.6" r="4.7"/>
<circle cx="574.0" cy="452.3" r="4.7"/>
<circle cx="577.9" cy="442.1" r="4.7"/>
<circle cx="581.9" cy="337.9" r="4.7"/>
<circle cx="593.4" cy="367.2" r="4.7"/>
<circle cx="572.1" cy="328.2" r="4.7"/>
<circle cx="575.4" cy="342.7" r="4.7"/>
<circle cx="573.4" cy="459.1" r="4.7"/>
<circle cx="598.0" cy="362.4" r="4.7"/>
<circle cx="584.3" cy="368.9" r="4.7"/>
<circle cx="595.5" cy="364.5" r="4.7"/>
<circle cx="592.2" cy="345.1" r="4.7"/>
<circle cx="576.1" cy="335.1" r="4.7"/>
<circle cx="587.0" cy="351.4" r="4.7"/>
<circle cx="577.1" cy="443.7" r="4.7"/>
<circle cx="584.4" cy="361.1" r="4.7"/>
<circle cx="587.4" cy="353.7" r="4.7"/>
<circle cx="597.0" cy="340.4" r="4.7"/>
<circle cx="593.6" cy="351.3" r="4.7"/>
<circle cx="599.7" cy="362.6" r="4.7"/>
<circle cx="584.4" cy="363.4" r="4.7"/>
<circle cx="575.7" cy="439.7" r="4.7"/>
<circle cx="578.8" cy="466.0" r="4.7"/>
<circle cx="598.1" cy="479.4" r="4.7"/>
<circle cx="586.6" cy="373.6" r="4.7"/>
<circle cx="587.4" cy="354.1" r="4.7"/>
<circle cx="577.2" cy="360.8" r="4.7"/>
<circle cx="579.2" cy="359.8" r="4.7"/>
<circle cx="581.7" cy="356.9" r="4.7"/>
<circle cx="581.5" cy="360.1" r="4.7"/>
<circle cx="578.7" cy="459.5" r="4.7"/>
<circle cx="581.8" cy="353.5" r="4.7"/>
<circle cx="579.5" cy="368.6" r="4.7"/>
<circle cx="599.0" cy="334.7" r="4.7"/>
<circle cx="579.1" cy="374.6" r="4.7"/>
<circle cx="588.7" cy="359.5" r="4.7"/>
<circle cx="603.2" cy="344.7" r="4.7"/>
<circle cx="582.1" cy="517.6" r="4.7"/>
<circle cx="580.7" cy="450.8" r="4.7"/>
<circle cx="597.9" cy="336.6" r="4.7"/>
<circle cx="586.7" cy="365.0" r="4.7"/>
<circle cx="581.4" cy="344.8" r="4.7"/>
<circle cx="603.1" cy="474.7" r="4.7"/>
<circle cx="597.5" cy="348.1" r="4.7"/>
<circle cx="593.3" cy="354.0" r="4.7"/>
<circle cx="585.5" cy="365.1" r="4.7"/>
<circle cx="599.9" cy="393.2" r="4.7"/>
<circle cx="600.0" cy="356.7" r="4.7"/>
<circle cx="600.0" cy="345.9" r="4.7"/>
<circle cx="592.4" cy="339.1" r="4.7"/>
<circle cx="600.9" cy="345.6" r="4.7"/>
<circle cx="601.1" cy="365.3" r="4.7"/>
<circle cx="600.8" cy="347.9" r="4.7"/>
<circle cx="593.2" cy="357.2" r="4.7"/>
<circle cx="587.4" cy="353.7" r="4.7"/>
<circle cx="604.5" cy="360.4" r="4.7"/>
<circle cx="606.0" cy="362.6" r="4.7"/>
<circle cx="608.5" cy="358.1" r="4.7"/>
<circle cx="610.2" cy="351.9" r="4.7"/>
<circle cx="602.7" cy="338.3" r="4.7"/>
<circle cx="587.9" cy="338.4" r="4.7"/>
<circle cx="592.0" cy="583.0" r="4.7"/>
<circle cx="593.3" cy="365.6" r="4.7"/>
<circle cx="596.6" cy="398.6" r="4.7"/>
<circle cx="615.0" cy="368.9" r="4.7"/>
<circle cx="610.2" cy="358.5" r="4.7"/>
<circle cx="607.6" cy="363.3" r="4.7"/>
<circle cx="596.2" cy="350.1" r="4.7"/>
<circle cx="600.9" cy="369.8" r="4.7"/>
<circle cx="613.5" cy="350.5" r="4.7"/>
<circle cx="605.3" cy="347.2" r="4.7"/>
<circle cx="611.3" cy="351.3" r="4.7"/>
<circle cx="599.2" cy="368.6" r="4.7"/>
<circle cx="603.6" cy="350.2" r="4.7"/>
<circle cx="611.7" cy="341.6" r="4.7"/>
<circle cx="615.0" cy="348.9" r="4.7"/>
<circle cx="610.1" cy="345.2" r="4.7"/>
<circle cx="606.0" cy="352.2" r="4.7"/>
<circle cx="610.2" cy="351.0" r="4.7"/>
<circle cx="600.4" cy="354.6" r="4.7"/>
<circle cx="612.7" cy="339.7" r="4.7"/>
<circle cx="613.9" cy="336.8" r="4.7"/>
<circle cx="598.6" cy="356.8" r="4.7"/>
<circle cx="616.8" cy="354.2" r="4.7"/>
<circle cx="611.3" cy="345.8" r="4.7"/>
<circle cx="602.0" cy="363.7" r="4.7"/>
<circle cx="605.4" cy="350.6" r="4.7"/>
<circle cx="606.9" cy="364.7" r="4.7"/>
<circle cx="613.9" cy="345.5" r="4.7"/>
<circle cx="620.9" cy="367.2" r="4.7"/>
<circle cx="605.8" cy="358.4" r="4.7"/>
<circle cx="610.2" cy="339.3" r="4.7"/>
<circle cx="605.3" cy="354.6" r="4.7"/>
<circle cx="615.0" cy="461.4" r="4.7"/>
<circle cx="624.8" cy="510.0" r="4.7"/>
<circle cx="616.1" cy="399.0" r="4.7"/>
<circle cx="633.4" cy="428.9" r="4.7"/>
</g>
<g fill="#000" shape-rendering="crispEdges">
<rect x="100" y="58" width="2" height="644"/>
<rect x="985" y="58" width="2" height="644"/>
<rect x="100" y="58" width="887" height="2"/>
<rect x="100" y="700" width="887" height="2"/>
<rect x="110.0" y="694" width="2" height="14"/>
<rect x="106.0" y="52.5" width="2" height="13"/>
<rect x="239.0" y="694" width="2" height="14"/>
<rect x="236.2" y="52.5" width="2" height="13"/>
<rect x="368.0" y="694" width="2" height="14"/>
<rect x="366.4" y="52.5" width="2" height="13"/>
<rect x="497.0" y="694" width="2" height="14"/>
<rect x="496.6" y="52.5" width="2" height="13"/>
<rect x="626.0" y="694" width="2" height="14"/>
<rect x="626.8" y="52.5" width="2" height="13"/>
<rect x="755.0" y="694" width="2" height="14"/>
<rect x="757.0" y="52.5" width="2" height="13"/>
<rect x="884.0" y="694" width="2" height="14"/>
<rect x="887.2" y="52.5" width="2" height="13"/>
<rect x="93" y="698.5" width="14" height="2"/>
<rect x="93" y="607.0" width="14" height="2"/>
<rect x="93" y="515.5" width="14" height="2"/>
<rect x="93" y="424.0" width="14" height="2"/>
<rect x="93" y="332.5" width="14" height="2"/>
<rect x="93" y="241.0" width="14" height="2"/>
<rect x="93" y="149.5" width="14" height="2"/>
<rect x="93" y="58.0" width="14" height="2"/>
<rect x="978.5" y="114.7" width="14" height="2"/>
<rect x="978.5" y="206.2" width="14" height="2"/>
<rect x="978.5" y="297.7" width="14" height="2"/>
<rect x="978.5" y="389.2" width="14" height="2"/>
<rect x="978.5" y="480.7" width="14" height="2"/>
<rect x="978.5" y="572.2" width="14" height="2"/>
<rect x="978.5" y="663.7" width="14" height="2"/>
<rect x="987" y="142.3" width="5" height="2"/>
<rect x="987" y="158.4" width="5" height="2"/>
<rect x="987" y="169.8" width="5" height="2"/>
<rect x="987" y="178.7" width="5" height="2"/>
<rect x="987" y="185.9" width="5" height="2"/>
<rect x="987" y="192.0" width="5" height="2"/>
<rect x="987" y="197.3" width="5" height="2"/>
<rect x="987" y="202.0" width="5" height="2"/>
<rect x="987" y="233.8" width="5" height="2"/>
<rect x="987" y="249.9" width="5" height="2"/>
<rect x="987" y="261.3" width="5" height="2"/>
<rect x="987" y="270.2" width="5" height="2"/>
<rect x="987" y="277.4" width="5" height="2"/>
<rect x="987" y="283.5" width="5" height="2"/>
<rect x="987" y="288.8" width="5" height="2"/>
<rect x="987" y="293.5" width="5" height="2"/>
<rect x="987" y="325.3" width="5" height="2"/>
<rect x="987" y="341.4" width="5" height="2"/>
<rect x="987" y="352.8" width="5" height="2"/>
<rect x="987" y="361.7" width="5" height="2"/>
<rect x="987" y="368.9" width="5" height="2"/>
<rect x="987" y="375.0" width="5" height="2"/>
<rect x="987" y="380.3" width="5" height="2"/>
<rect x="987" y="385.0" width="5" height="2"/>
<rect x="987" y="416.8" width="5" height="2"/>
<rect x="987" y="432.9" width="5" height="2"/>
<rect x="987" y="444.3" width="5" height="2"/>
<rect x="987" y="453.2" width="5" height="2"/>
<rect x="987" y="460.4" width="5" height="2"/>
<rect x="987" y="466.5" width="5" height="2"/>
<rect x="987" y="471.8" width="5" height="2"/>
<rect x="987" y="476.5" width="5" height="2"/>
<rect x="987" y="508.3" width="5" height="2"/>
<rect x="987" y="524.4" width="5" height="2"/>
<rect x="987" y="535.8" width="5" height="2"/>
<rect x="987" y="544.7" width="5" height="2"/>
<rect x="987" y="551.9" width="5" height="2"/>
<rect x="987" y="558.0" width="5" height="2"/>
<rect x="987" y="563.3" width="5" height="2"/>
<rect x="987" y="568.0" width="5" height="2"/>
<rect x="987" y="599.8" width="5" height="2"/>
<rect x="987" y="615.9" width="5" height="2"/>
<rect x="987" y="627.3" width="5" height="2"/>
<rect x="987" y="636.2" width="5" height="2"/>
<rect x="987" y="643.4" width="5" height="2"/>
<rect x="987" y="649.5" width="5" height="2"/>
<rect x="987" y="654.8" width="5" height="2"/>
<rect x="987" y="659.5" width="5" height="2"/>
<rect x="987" y="691.3" width="5" height="2"/>
</g>
<g fill="#6b6b6b" shape-rendering="crispEdges">
<rect x="148.8" y="702" width="2" height="6"/>
<rect x="171.5" y="702" width="2" height="6"/>
<rect x="187.7" y="702" width="2" height="6"/>
<rect x="200.2" y="702" width="2" height="6"/>
<rect x="210.4" y="702" width="2" height="6"/>
<rect x="219.0" y="702" width="2" height="6"/>
<rect x="226.5" y="702" width="2" height="6"/>
<rect x="233.1" y="702" width="2" height="6"/>
<rect x="277.8" y="702" width="2" height="6"/>
<rect x="300.5" y="702" width="2" height="6"/>
<rect x="316.7" y="702" width="2" height="6"/>
<rect x="329.2" y="702" width="2" height="6"/>
<rect x="339.4" y="702" width="2" height="6"/>
<rect x="348.0" y="702" width="2" height="6"/>
<rect x="355.5" y="702" width="2" height="6"/>
<rect x="362.1" y="702" width="2" height="6"/>
<rect x="406.8" y="702" width="2" height="6"/>
<rect x="429.5" y="702" width="2" height="6"/>
<rect x="445.7" y="702" width="2" height="6"/>
<rect x="458.2" y="702" width="2" height="6"/>
<rect x="468.4" y="702" width="2" height="6"/>
<rect x="477.0" y="702" width="2" height="6"/>
<rect x="484.5" y="702" width="2" height="6"/>
<rect x="491.1" y="702" width="2" height="6"/>
<rect x="535.8" y="702" width="2" height="6"/>
<rect x="558.5" y="702" width="2" height="6"/>
<rect x="574.7" y="702" width="2" height="6"/>
<rect x="587.2" y="702" width="2" height="6"/>
<rect x="597.4" y="702" width="2" height="6"/>
<rect x="606.0" y="702" width="2" height="6"/>
<rect x="613.5" y="702" width="2" height="6"/>
<rect x="620.1" y="702" width="2" height="6"/>
<rect x="664.8" y="702" width="2" height="6"/>
<rect x="687.5" y="702" width="2" height="6"/>
<rect x="703.7" y="702" width="2" height="6"/>
<rect x="716.2" y="702" width="2" height="6"/>
<rect x="726.4" y="702" width="2" height="6"/>
<rect x="735.0" y="702" width="2" height="6"/>
<rect x="742.5" y="702" width="2" height="6"/>
<rect x="749.1" y="702" width="2" height="6"/>
<rect x="793.8" y="702" width="2" height="6"/>
<rect x="816.5" y="702" width="2" height="6"/>
<rect x="832.7" y="702" width="2" height="6"/>
<rect x="845.2" y="702" width="2" height="6"/>
<rect x="855.4" y="702" width="2" height="6"/>
<rect x="864.0" y="702" width="2" height="6"/>
<rect x="871.5" y="702" width="2" height="6"/>
<rect x="878.1" y="702" width="2" height="6"/>
<rect x="922.8" y="702" width="2" height="6"/>
<rect x="945.5" y="702" width="2" height="6"/>
<rect x="961.7" y="702" width="2" height="6"/>
<rect x="974.2" y="702" width="2" height="6"/>
<rect x="90.5" y="671.0" width="9.5" height="2"/>
<rect x="90.5" y="654.8" width="9.5" height="2"/>
<rect x="90.5" y="643.4" width="9.5" height="2"/>
<rect x="90.5" y="634.5" width="9.5" height="2"/>
<rect x="90.5" y="627.3" width="9.5" height="2"/>
<rect x="90.5" y="621.2" width="9.5" height="2"/>
<rect x="90.5" y="615.9" width="9.5" height="2"/>
<rect x="90.5" y="611.2" width="9.5" height="2"/>
<rect x="90.5" y="579.5" width="9.5" height="2"/>
<rect x="90.5" y="563.3" width="9.5" height="2"/>
<rect x="90.5" y="551.9" width="9.5" height="2"/>
<rect x="90.5" y="543.0" width="9.5" height="2"/>
<rect x="90.5" y="535.8" width="9.5" height="2"/>
<rect x="90.5" y="529.7" width="9.5" height="2"/>
<rect x="90.5" y="524.4" width="9.5" height="2"/>
<rect x="90.5" y="519.7" width="9.5" height="2"/>
<rect x="90.5" y="488.0" width="9.5" height="2"/>
<rect x="90.5" y="471.8" width="9.5" height="2"/>
<rect x="90.5" y="460.4" width="9.5" height="2"/>
<rect x="90.5" y="451.5" width="9.5" height="2"/>
<rect x="90.5" y="444.3" width="9.5" height="2"/>
<rect x="90.5" y="438.2" width="9.5" height="2"/>
<rect x="90.5" y="432.9" width="9.5" height="2"/>
<rect x="90.5" y="428.2" width="9.5" height="2"/>
<rect x="90.5" y="396.5" width="9.5" height="2"/>
<rect x="90.5" y="380.3" width="9.5" height="2"/>
<rect x="90.5" y="368.9" width="9.5" height="2"/>
<rect x="90.5" y="360.0" width="9.5" height="2"/>
<rect x="90.5" y="352.8" width="9.5" height="2"/>
<rect x="90.5" y="346.7" width="9.5" height="2"/>
<rect x="90.5" y="341.4" width="9.5" height="2"/>
<rect x="90.5" y="336.7" width="9.5" height="2"/>
<rect x="90.5" y="305.0" width="9.5" height="2"/>
<rect x="90.5" y="288.8" width="9.5" height="2"/>
<rect x="90.5" y="277.4" width="9.5" height="2"/>
<rect x="90.5" y="268.5" width="9.5" height="2"/>
<rect x="90.5" y="261.3" width="9.5" height="2"/>
<rect x="90.5" y="255.2" width="9.5" height="2"/>
<rect x="90.5" y="249.9" width="9.5" height="2"/>
<rect x="90.5" y="245.2" width="9.5" height="2"/>
<rect x="90.5" y="213.5" width="9.5" height="2"/>
<rect x="90.5" y="197.3" width="9.5" height="2"/>
<rect x="90.5" y="185.9" width="9.5" height="2"/>
<rect x="90.5" y="177.0" width="9.5" height="2"/>
<rect x="90.5" y="169.8" width="9.5" height="2"/>
<rect x="90.5" y="163.7" width="9.5" height="2"/>
<rect x="90.5" y="158.4" width="9.5" height="2"/>
<rect x="90.5" y="153.7" width="9.5" height="2"/>
<rect x="90.5" y="122.0" width="9.5" height="2"/>
<rect x="90.5" y="105.8" width="9.5" height="2"/>
<rect x="90.5" y="94.4" width="9.5" height="2"/>
<rect x="90.5" y="85.5" width="9.5" height="2"/>
<rect x="90.5" y="78.3" width="9.5" height="2"/>
<rect x="90.5" y="72.2" width="9.5" height="2"/>
<rect x="90.5" y="66.9" width="9.5" height="2"/>
<rect x="90.5" y="62.2" width="9.5" height="2"/>
</g>
<g fill="#000">
<text x="546.8" y="38.2" font-size="21.8" text-anchor="middle" textLength="620" lengthAdjust="spacingAndGlyphs">Frequency/Period vs. Diameter (Short Damping Times)</text>
<text x="548" y="746" font-size="18.67" text-anchor="middle" textLength="126" lengthAdjust="spacingAndGlyphs">Diameter (km)</text>
<text transform="translate(26.6 379.3) rotate(-90)" font-size="20" text-anchor="middle" textLength="122" lengthAdjust="spacingAndGlyphs">Frequency (/d)</text>
<text transform="translate(1066.3 378.8) rotate(-90)" font-size="20" text-anchor="middle" textLength="121" lengthAdjust="spacingAndGlyphs">Period (hours)</text>
<g font-size="16">
<text x="112.5" y="723" text-anchor="middle">0.001</text>
<text x="241.5" y="723" text-anchor="middle">0.01</text>
<text x="370.5" y="723" text-anchor="middle">0.1</text>
<text x="499.5" y="723" text-anchor="middle">1</text>
<text x="628.5" y="723" text-anchor="middle">10</text>
<text x="757.5" y="723" text-anchor="middle">100</text>
<text x="886.5" y="723" text-anchor="middle">1000</text>
<text x="91" y="704.7" text-anchor="end">0.001</text>
<text x="91" y="613.2" text-anchor="end">0.01</text>
<text x="91" y="521.7" text-anchor="end">0.1</text>
<text x="91" y="430.2" text-anchor="end">1</text>
<text x="91" y="338.7" text-anchor="end">10</text>
<text x="91" y="247.2" text-anchor="end">100</text>
<text x="91" y="155.7" text-anchor="end">1000</text>
<text x="91" y="64.2" text-anchor="end">10000</text>
<text x="999" y="121.3">0.01</text>
<text x="999" y="212.8">0.1</text>
<text x="999" y="304.3">1</text>
<text x="999" y="395.8">10</text>
<text x="999" y="487.3">100</text>
<text x="999" y="578.8">1000</text>
<text x="999" y="670.3">10000</text>
</g></g>
<g>
<rect x="1038.2" y="53" width="145" height="146.5" rx="1.5" fill="#fff" stroke="#6a6a6a" stroke-width="1.6"/>
<circle cx="1052" cy="66" r="4.1" fill="#000"/>
<line x1="1043.5" y1="85.8" x2="1058.5" y2="85.8" stroke="#888" stroke-width="1.6" stroke-dasharray="2 2"/>
<line x1="1043.5" y1="105.8" x2="1058" y2="105.8" stroke="#000" stroke-width="2" stroke-dasharray="6 2"/>
<line x1="1043.5" y1="125.8" x2="1058" y2="125.8" stroke="#008000" stroke-width="2" stroke-dasharray="6 2"/>
<line x1="1043.5" y1="145.8" x2="1058" y2="145.8" stroke="#ff0000" stroke-width="2" stroke-dasharray="6 2"/>
<line x1="1043.5" y1="165.8" x2="1059" y2="165.8" stroke="#e6b8e6" stroke-width="1.2" stroke-dasharray="1.2 0.8"/>
<circle cx="1052" cy="185.5" r="5" fill="#ffff00" stroke="#000" stroke-width="1"/>
<g font-size="16" fill="#000">
<text x="1067.3" y="71.0">Asteroid</text>
<text x="1067.3" y="91.0">Spin Barrier</text>
<text x="1067.3" y="111.0">200 My</text>
<text x="1067.3" y="131.0">1 Gy</text>
<text x="1067.3" y="151.0">4.5 Gy</text>
<text x="1067.3" y="171.0">Collisional LT</text>
<text x="1067.3" y="191.0">Family</text>
</g></g>
</svg>
</body></html>
